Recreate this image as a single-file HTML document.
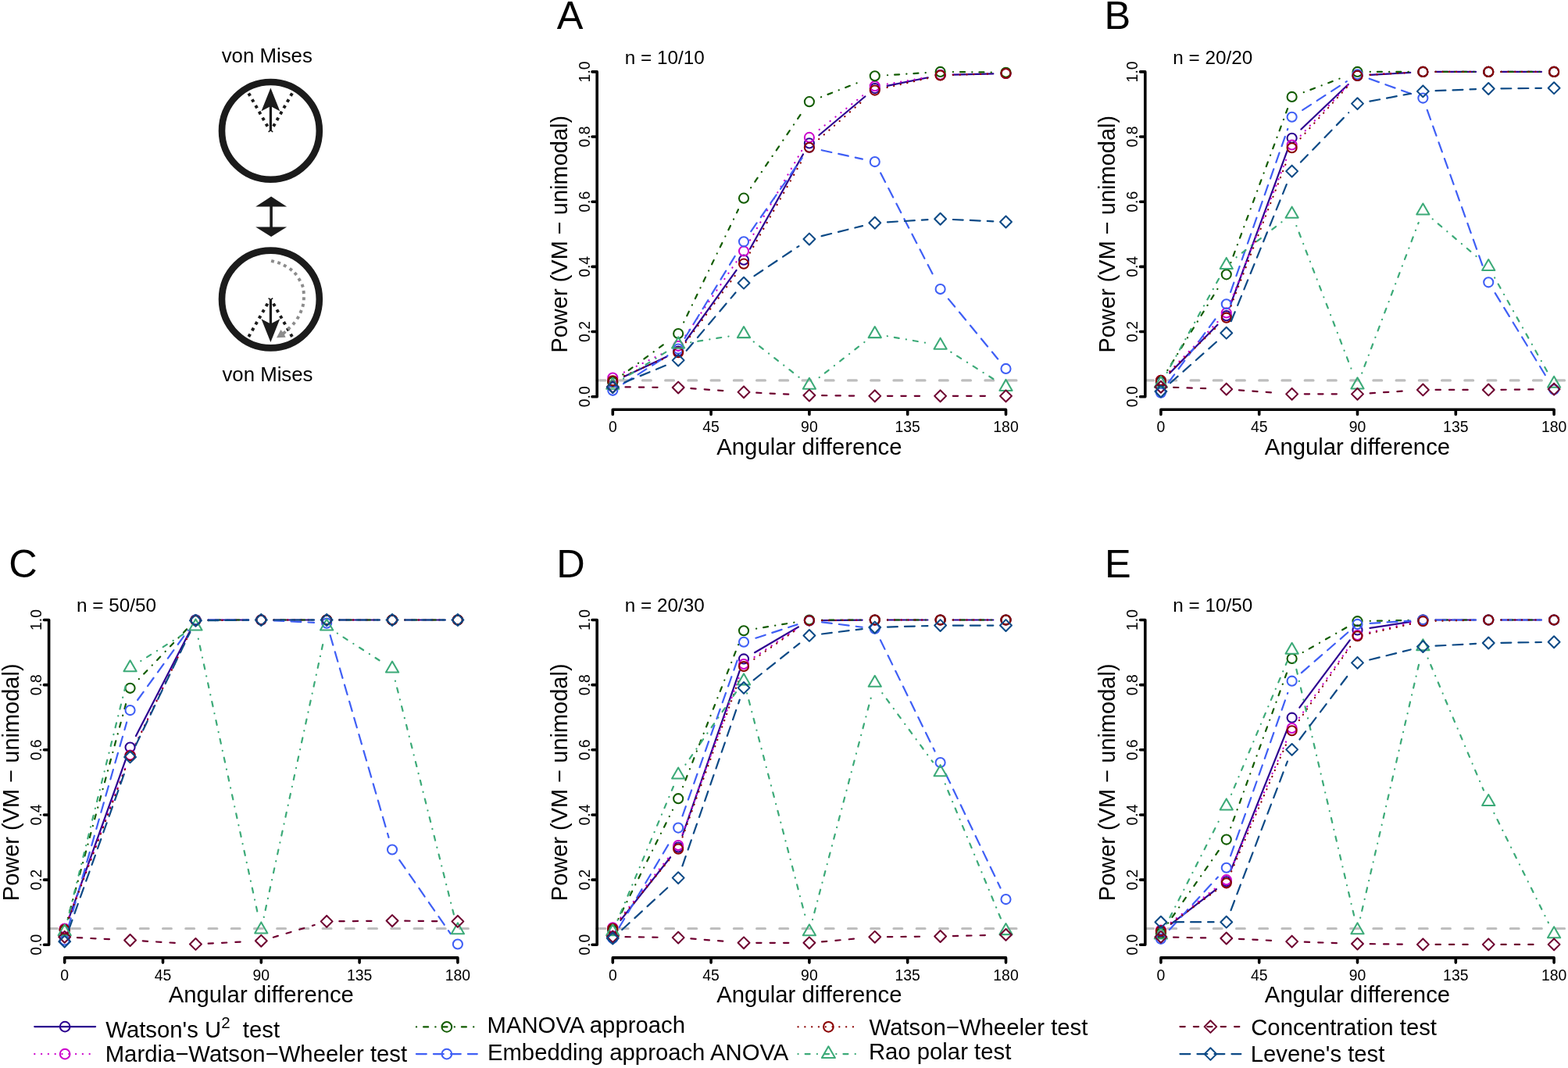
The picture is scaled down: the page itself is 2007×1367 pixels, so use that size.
<!DOCTYPE html><html><head><meta charset="utf-8"><style>html,body{margin:0;padding:0;background:#fff;overflow:hidden;}svg{display:block;}text{font-family:"Liberation Sans", Arial, Helvetica, sans-serif;fill:#000;}</style></head><body>
<svg width="2007" height="1367" viewBox="0 0 2007 1367">
<rect width="2007" height="1367" fill="#fff"/>
<text x="283.7" y="79.8" font-size="25.8">von Mises</text>
<text x="284.4" y="487.8" font-size="25.8">von Mises</text>
<circle cx="346.4" cy="167.4" r="62.4" fill="none" stroke="#1b1b1b" stroke-width="8.6"/>
<circle cx="346.4" cy="383" r="62.4" fill="none" stroke="#1b1b1b" stroke-width="8.6"/>
<rect x="317.25" y="119.15" width="3.9" height="3.9" fill="#1b1b1b" transform="rotate(60.24 319.2 121.1)"/>
<rect x="321.71" y="126.95" width="3.9" height="3.9" fill="#1b1b1b" transform="rotate(60.24 323.66 128.9)"/>
<rect x="326.17" y="134.75" width="3.9" height="3.9" fill="#1b1b1b" transform="rotate(60.24 328.12 136.7)"/>
<rect x="330.63" y="142.55" width="3.9" height="3.9" fill="#1b1b1b" transform="rotate(60.24 332.58 144.5)"/>
<rect x="335.09" y="150.35" width="3.9" height="3.9" fill="#1b1b1b" transform="rotate(60.24 337.04 152.3)"/>
<rect x="339.55" y="158.15" width="3.9" height="3.9" fill="#1b1b1b" transform="rotate(60.24 341.5 160.1)"/>
<rect x="371.05" y="119.15" width="3.9" height="3.9" fill="#1b1b1b" transform="rotate(119.54 373 121.1)"/>
<rect x="366.63" y="126.95" width="3.9" height="3.9" fill="#1b1b1b" transform="rotate(119.54 368.58 128.9)"/>
<rect x="362.21" y="134.75" width="3.9" height="3.9" fill="#1b1b1b" transform="rotate(119.54 364.16 136.7)"/>
<rect x="357.79" y="142.55" width="3.9" height="3.9" fill="#1b1b1b" transform="rotate(119.54 359.74 144.5)"/>
<rect x="353.37" y="150.35" width="3.9" height="3.9" fill="#1b1b1b" transform="rotate(119.54 355.32 152.3)"/>
<rect x="348.95" y="158.15" width="3.9" height="3.9" fill="#1b1b1b" transform="rotate(119.54 350.9 160.1)"/>
<path d="M346.4 134.5L346.4 167.6" stroke="#1b1b1b" stroke-width="3.2"/>
<path d="M346.4 112.4L358.3 142.2L346.4 136L334.5 142.2Z" fill="#1b1b1b"/>
<path d="M343.6 168.8L346.4 166.6L349.2 168.8" stroke="#1b1b1b" stroke-width="1.6" fill="none"/>
<rect x="317.25" y="427.35" width="3.9" height="3.9" fill="#1b1b1b" transform="rotate(-60.24 319.2 429.3)"/>
<rect x="321.71" y="419.55" width="3.9" height="3.9" fill="#1b1b1b" transform="rotate(-60.24 323.66 421.5)"/>
<rect x="326.17" y="411.75" width="3.9" height="3.9" fill="#1b1b1b" transform="rotate(-60.24 328.12 413.7)"/>
<rect x="330.63" y="403.95" width="3.9" height="3.9" fill="#1b1b1b" transform="rotate(-60.24 332.58 405.9)"/>
<rect x="335.09" y="396.15" width="3.9" height="3.9" fill="#1b1b1b" transform="rotate(-60.24 337.04 398.1)"/>
<rect x="339.55" y="388.35" width="3.9" height="3.9" fill="#1b1b1b" transform="rotate(-60.24 341.5 390.3)"/>
<rect x="371.05" y="427.35" width="3.9" height="3.9" fill="#1b1b1b" transform="rotate(-119.54 373 429.3)"/>
<rect x="366.63" y="419.55" width="3.9" height="3.9" fill="#1b1b1b" transform="rotate(-119.54 368.58 421.5)"/>
<rect x="362.21" y="411.75" width="3.9" height="3.9" fill="#1b1b1b" transform="rotate(-119.54 364.16 413.7)"/>
<rect x="357.79" y="403.95" width="3.9" height="3.9" fill="#1b1b1b" transform="rotate(-119.54 359.74 405.9)"/>
<rect x="353.37" y="396.15" width="3.9" height="3.9" fill="#1b1b1b" transform="rotate(-119.54 355.32 398.1)"/>
<rect x="348.95" y="388.35" width="3.9" height="3.9" fill="#1b1b1b" transform="rotate(-119.54 350.9 390.3)"/>
<path d="M346.4 415.9L346.4 382.8" stroke="#1b1b1b" stroke-width="3.2"/>
<path d="M346.4 438L358.3 408.2L346.4 414.4L334.5 408.2Z" fill="#1b1b1b"/>
<path d="M343.6 381.6L346.4 383.8L349.2 381.6" stroke="#1b1b1b" stroke-width="1.6" fill="none"/>
<path d="M347.1 262 L347.1 292" stroke="#1b1b1b" stroke-width="3.6"/>
<path d="M347.1 251.6 L367.1 264.5 L327.2 264.5 Z M347.1 303 L367.1 290.4 L327.2 290.4 Z" fill="#1b1b1b"/>
<rect x="347.05" y="332.45" width="3.9" height="3.9" fill="#8c8c8c" transform="rotate(15.2 349 334.4)"/>
<rect x="355.15" y="334.65" width="3.9" height="3.9" fill="#8c8c8c" transform="rotate(20.28 357.1 336.6)"/>
<rect x="362.75" y="338.25" width="3.9" height="3.9" fill="#8c8c8c" transform="rotate(28.64 364.7 340.2)"/>
<rect x="370.35" y="342.95" width="3.9" height="3.9" fill="#8c8c8c" transform="rotate(37.41 372.3 344.9)"/>
<rect x="376.35" y="348.65" width="3.9" height="3.9" fill="#8c8c8c" transform="rotate(50.24 378.3 350.6)"/>
<rect x="381.25" y="356.05" width="3.9" height="3.9" fill="#8c8c8c" transform="rotate(59.65 383.2 358)"/>
<rect x="385.25" y="363.85" width="3.9" height="3.9" fill="#8c8c8c" transform="rotate(71.03 387.2 365.8)"/>
<rect x="386.75" y="372.05" width="3.9" height="3.9" fill="#8c8c8c" transform="rotate(84.12 388.7 374)"/>
<rect x="386.95" y="380.35" width="3.9" height="3.9" fill="#8c8c8c" transform="rotate(93.07 388.9 382.3)"/>
<rect x="385.85" y="388.85" width="3.9" height="3.9" fill="#8c8c8c" transform="rotate(102.89 387.8 390.8)"/>
<rect x="383.15" y="396.95" width="3.9" height="3.9" fill="#8c8c8c" transform="rotate(112.23 385.1 398.9)"/>
<rect x="379.35" y="404.75" width="3.9" height="3.9" fill="#8c8c8c" transform="rotate(120.63 381.3 406.7)"/>
<rect x="374.15" y="412.15" width="3.9" height="3.9" fill="#8c8c8c" transform="rotate(129.97 376.1 414.1)"/>
<rect x="367.95" y="418.35" width="3.9" height="3.9" fill="#8c8c8c" transform="rotate(135 369.9 420.3)"/>
<path d="M354 432.2 L359.4 422 L361.8 425 L364.3 423.1 L366.7 425.7 L364 428.2 L365.6 431.7 Z" fill="#8c8c8c"/>
<text x="712.8" y="37.4" font-size="50.5">A</text>
<text x="799.7" y="81.6" font-size="24.3">n = 10/10</text>
<path d="M763.95 486.91L1306 486.91" stroke="#bebebe" stroke-width="3.1" stroke-dasharray="10.9 18.33" stroke-linecap="round" fill="none"/>
<path d="M764.2 507.7L764.2 91.9M764.2 507.7L758 507.7M764.2 424.54L758 424.54M764.2 341.38L758 341.38M764.2 258.22L758 258.22M764.2 175.06L758 175.06M764.2 91.9L758 91.9M784.3 524.3L1287.5 524.3M784.3 524.3L784.3 530.5M910.1 524.3L910.1 530.5M1035.9 524.3L1035.9 530.5M1161.7 524.3L1161.7 530.5M1287.5 524.3L1287.5 530.5" stroke="#000" stroke-width="3.6" stroke-linecap="round" fill="none"/>
<text x="784.3" y="553.4" font-size="19.4" text-anchor="middle">0</text>
<text x="910.1" y="553.4" font-size="19.4" text-anchor="middle">45</text>
<text x="1035.9" y="553.4" font-size="19.4" text-anchor="middle">90</text>
<text x="1161.7" y="553.4" font-size="19.4" text-anchor="middle">135</text>
<text x="1287.5" y="553.4" font-size="19.4" text-anchor="middle">180</text>
<text transform="translate(754.8 507.7) rotate(-90)" font-size="19.4" text-anchor="middle">0.0</text>
<text transform="translate(754.8 424.54) rotate(-90)" font-size="19.4" text-anchor="middle">0.2</text>
<text transform="translate(754.8 341.38) rotate(-90)" font-size="19.4" text-anchor="middle">0.4</text>
<text transform="translate(754.8 258.22) rotate(-90)" font-size="19.4" text-anchor="middle">0.6</text>
<text transform="translate(754.8 175.06) rotate(-90)" font-size="19.4" text-anchor="middle">0.8</text>
<text transform="translate(754.8 91.9) rotate(-90)" font-size="19.4" text-anchor="middle">1.0</text>
<text x="1035.9" y="581.5" font-size="29.3" text-anchor="middle">Angular difference</text>
<text transform="translate(725.7 299.7) rotate(-90)" font-size="29" text-anchor="middle">Power (VM − unimodal)</text>
<path d="M798.96 482.09L853.51 456.39" stroke="#2c0090" stroke-width="2.2" stroke-linecap="round"/>
<path d="M877.61 436.33L942.59 345.81" stroke="#2c0090" stroke-width="2.2" stroke-linecap="round"/>
<path d="M959.97 318.52L1027.96 197.5" stroke="#2c0090" stroke-width="2.2" stroke-linecap="round"/>
<path d="M1048.32 172.97L1107.35 123.51" stroke="#2c0090" stroke-width="2.2" stroke-linecap="round"/>
<path d="M1135.64 109.88L1187.76 99.29" stroke="#2c0090" stroke-width="2.2" stroke-linecap="round"/>
<path d="M1219.83 95.66L1271.3 94.38" stroke="#2c0090" stroke-width="2.2" stroke-linecap="round"/>
<circle cx="784.3" cy="488.99" r="6.05" fill="none" stroke="#2c0090" stroke-width="2.05"/>
<circle cx="868.17" cy="449.49" r="6.05" fill="none" stroke="#2c0090" stroke-width="2.05"/>
<circle cx="952.03" cy="332.65" r="6.05" fill="none" stroke="#2c0090" stroke-width="2.05"/>
<circle cx="1035.9" cy="183.38" r="6.05" fill="none" stroke="#2c0090" stroke-width="2.05"/>
<circle cx="1119.77" cy="113.11" r="6.05" fill="none" stroke="#2c0090" stroke-width="2.05"/>
<circle cx="1203.63" cy="96.06" r="6.05" fill="none" stroke="#2c0090" stroke-width="2.05"/>
<circle cx="1287.5" cy="93.98" r="6.05" fill="none" stroke="#2c0090" stroke-width="2.05"/>
<path d="M798.87 476.5L853.6 449.91" stroke="#cc00cc" stroke-width="2.2" stroke-linecap="round" stroke-dasharray="0.2,8.6"/>
<path d="M877.37 429.51L942.83 334.75" stroke="#cc00cc" stroke-width="2.2" stroke-linecap="round" stroke-dasharray="0.2,8.6"/>
<path d="M960.12 307.39L1027.81 189.93" stroke="#cc00cc" stroke-width="2.2" stroke-linecap="round" stroke-dasharray="0.2,8.6"/>
<path d="M1048.65 165.9L1107.01 120.19" stroke="#cc00cc" stroke-width="2.2" stroke-linecap="round" stroke-dasharray="0.2,8.6"/>
<path d="M1135.74 107.5L1187.66 98.75" stroke="#cc00cc" stroke-width="2.2" stroke-linecap="round" stroke-dasharray="0.2,8.6"/>
<path d="M1219.83 95.66L1271.3 94.38" stroke="#cc00cc" stroke-width="2.2" stroke-linecap="round" stroke-dasharray="0.2,8.6"/>
<circle cx="784.3" cy="483.58" r="6.05" fill="none" stroke="#cc00cc" stroke-width="2.05"/>
<circle cx="868.17" cy="442.84" r="6.05" fill="none" stroke="#cc00cc" stroke-width="2.05"/>
<circle cx="952.03" cy="321.42" r="6.05" fill="none" stroke="#cc00cc" stroke-width="2.05"/>
<circle cx="1035.9" cy="175.89" r="6.05" fill="none" stroke="#cc00cc" stroke-width="2.05"/>
<circle cx="1119.77" cy="110.2" r="6.05" fill="none" stroke="#cc00cc" stroke-width="2.05"/>
<circle cx="1203.63" cy="96.06" r="6.05" fill="none" stroke="#cc00cc" stroke-width="2.05"/>
<circle cx="1287.5" cy="93.98" r="6.05" fill="none" stroke="#cc00cc" stroke-width="2.05"/>
<path d="M797.33 479.36L855.14 436.66" stroke="#125c00" stroke-width="2.2" stroke-linecap="round" stroke-dasharray="0.2,9,6,9.2"/>
<path d="M875.22 412.45L944.98 268.23" stroke="#125c00" stroke-width="2.2" stroke-linecap="round" stroke-dasharray="0.2,9,6,9.2"/>
<path d="M961.13 240.24L1026.8 143.56" stroke="#125c00" stroke-width="2.2" stroke-linecap="round" stroke-dasharray="0.2,9,6,9.2"/>
<path d="M1050.98 124.25L1104.68 103.21" stroke="#125c00" stroke-width="2.2" stroke-linecap="round" stroke-dasharray="0.2,9,6,9.2"/>
<path d="M1135.93 96.26L1187.47 92.94" stroke="#125c00" stroke-width="2.2" stroke-linecap="round" stroke-dasharray="0.2,9,6,9.2"/>
<path d="M1219.83 92.06L1271.3 92.57" stroke="#125c00" stroke-width="2.2" stroke-linecap="round" stroke-dasharray="0.2,9,6,9.2"/>
<circle cx="784.3" cy="488.99" r="6.05" fill="none" stroke="#125c00" stroke-width="2.05"/>
<circle cx="868.17" cy="427.03" r="6.05" fill="none" stroke="#125c00" stroke-width="2.05"/>
<circle cx="952.03" cy="253.65" r="6.05" fill="none" stroke="#125c00" stroke-width="2.05"/>
<circle cx="1035.9" cy="130.15" r="6.05" fill="none" stroke="#125c00" stroke-width="2.05"/>
<circle cx="1119.77" cy="97.31" r="6.05" fill="none" stroke="#125c00" stroke-width="2.05"/>
<circle cx="1203.63" cy="91.9" r="6.05" fill="none" stroke="#125c00" stroke-width="2.05"/>
<circle cx="1287.5" cy="92.73" r="6.05" fill="none" stroke="#125c00" stroke-width="2.05"/>
<path d="M797.98 491.12L854.49 455.26" stroke="#3f5ff5" stroke-width="2.2" stroke-linecap="round" stroke-dasharray="12.9,9.1"/>
<path d="M876.62 432.75L943.58 323.19" stroke="#3f5ff5" stroke-width="2.2" stroke-linecap="round" stroke-dasharray="12.9,9.1"/>
<path d="M961.28 296.06L1026.65 202.08" stroke="#3f5ff5" stroke-width="2.2" stroke-linecap="round" stroke-dasharray="12.9,9.1"/>
<path d="M1051.73 192.23L1103.94 203.62" stroke="#3f5ff5" stroke-width="2.2" stroke-linecap="round" stroke-dasharray="12.9,9.1"/>
<path d="M1127.18 221.48L1196.22 355.67" stroke="#3f5ff5" stroke-width="2.2" stroke-linecap="round" stroke-dasharray="12.9,9.1"/>
<path d="M1213.93 382.58L1277.2 459.43" stroke="#3f5ff5" stroke-width="2.2" stroke-linecap="round" stroke-dasharray="12.9,9.1"/>
<circle cx="784.3" cy="499.8" r="6.05" fill="none" stroke="#3f5ff5" stroke-width="2.05"/>
<circle cx="868.17" cy="446.58" r="6.05" fill="none" stroke="#3f5ff5" stroke-width="2.05"/>
<circle cx="952.03" cy="309.36" r="6.05" fill="none" stroke="#3f5ff5" stroke-width="2.05"/>
<circle cx="1035.9" cy="188.78" r="6.05" fill="none" stroke="#3f5ff5" stroke-width="2.05"/>
<circle cx="1119.77" cy="207.08" r="6.05" fill="none" stroke="#3f5ff5" stroke-width="2.05"/>
<circle cx="1203.63" cy="370.07" r="6.05" fill="none" stroke="#3f5ff5" stroke-width="2.05"/>
<circle cx="1287.5" cy="471.94" r="6.05" fill="none" stroke="#3f5ff5" stroke-width="2.05"/>
<path d="M799.18 480.91L853.29 457.57" stroke="#8b0000" stroke-width="2.2" stroke-linecap="round" stroke-dasharray="0.2,8.6"/>
<path d="M877.79 438.12L942.41 350.67" stroke="#8b0000" stroke-width="2.2" stroke-linecap="round" stroke-dasharray="0.2,8.6"/>
<path d="M959.99 323.52L1027.95 202.9" stroke="#8b0000" stroke-width="2.2" stroke-linecap="round" stroke-dasharray="0.2,8.6"/>
<path d="M1048.11 178.13L1107.56 126.25" stroke="#8b0000" stroke-width="2.2" stroke-linecap="round" stroke-dasharray="0.2,8.6"/>
<path d="M1135.56 112L1187.84 100.08" stroke="#8b0000" stroke-width="2.2" stroke-linecap="round" stroke-dasharray="0.2,8.6"/>
<path d="M1219.83 95.99L1271.31 94.46" stroke="#8b0000" stroke-width="2.2" stroke-linecap="round" stroke-dasharray="0.2,8.6"/>
<circle cx="784.3" cy="487.33" r="6.05" fill="none" stroke="#8b0000" stroke-width="2.05"/>
<circle cx="868.17" cy="451.15" r="6.05" fill="none" stroke="#8b0000" stroke-width="2.05"/>
<circle cx="952.03" cy="337.64" r="6.05" fill="none" stroke="#8b0000" stroke-width="2.05"/>
<circle cx="1035.9" cy="188.78" r="6.05" fill="none" stroke="#8b0000" stroke-width="2.05"/>
<circle cx="1119.77" cy="115.6" r="6.05" fill="none" stroke="#8b0000" stroke-width="2.05"/>
<circle cx="1203.63" cy="96.47" r="6.05" fill="none" stroke="#8b0000" stroke-width="2.05"/>
<circle cx="1287.5" cy="93.98" r="6.05" fill="none" stroke="#8b0000" stroke-width="2.05"/>
<path d="M798.04 484.56L854.43 449.34" stroke="#3caa78" stroke-width="2.2" stroke-linecap="round" stroke-dasharray="0.2,9,6,9.2"/>
<path d="M884.17 438.22L936.03 429.99" stroke="#3caa78" stroke-width="2.2" stroke-linecap="round" stroke-dasharray="0.2,9,6,9.2"/>
<path d="M964.79 437.44L1023.15 483.16" stroke="#3caa78" stroke-width="2.2" stroke-linecap="round" stroke-dasharray="0.2,9,6,9.2"/>
<path d="M1048.65 483.16L1107.01 437.44" stroke="#3caa78" stroke-width="2.2" stroke-linecap="round" stroke-dasharray="0.2,9,6,9.2"/>
<path d="M1135.73 430.22L1187.67 439.23" stroke="#3caa78" stroke-width="2.2" stroke-linecap="round" stroke-dasharray="0.2,9,6,9.2"/>
<path d="M1217.31 450.68L1273.82 486.55" stroke="#3caa78" stroke-width="2.2" stroke-linecap="round" stroke-dasharray="0.2,9,6,9.2"/>
<path d="M784.3 483.8L792.4 497.82L776.2 497.82Z" fill="none" stroke="#3caa78" stroke-width="2.05" stroke-linejoin="round"/>
<path d="M868.17 431.41L876.26 445.43L860.07 445.43Z" fill="none" stroke="#3caa78" stroke-width="2.05" stroke-linejoin="round"/>
<path d="M952.03 418.1L960.13 432.13L943.94 432.13Z" fill="none" stroke="#3caa78" stroke-width="2.05" stroke-linejoin="round"/>
<path d="M1035.9 483.8L1044 497.82L1027.8 497.82Z" fill="none" stroke="#3caa78" stroke-width="2.05" stroke-linejoin="round"/>
<path d="M1119.77 418.1L1127.86 432.13L1111.67 432.13Z" fill="none" stroke="#3caa78" stroke-width="2.05" stroke-linejoin="round"/>
<path d="M1203.63 432.65L1211.73 446.68L1195.54 446.68Z" fill="none" stroke="#3caa78" stroke-width="2.05" stroke-linejoin="round"/>
<path d="M1287.5 485.88L1295.6 499.9L1279.4 499.9Z" fill="none" stroke="#3caa78" stroke-width="2.05" stroke-linejoin="round"/>
<path d="M800.5 495.39L851.97 495.9" stroke="#6e0030" stroke-width="2.2" stroke-linecap="round" stroke-dasharray="6.3,11.1"/>
<path d="M884.33 497.18L935.87 500.76" stroke="#6e0030" stroke-width="2.2" stroke-linecap="round" stroke-dasharray="6.3,11.1"/>
<path d="M968.21 502.68L1019.72 505.23" stroke="#6e0030" stroke-width="2.2" stroke-linecap="round" stroke-dasharray="6.3,11.1"/>
<path d="M1052.1 506.2L1103.57 506.71" stroke="#6e0030" stroke-width="2.2" stroke-linecap="round" stroke-dasharray="6.3,11.1"/>
<path d="M1135.97 506.87L1187.43 506.87" stroke="#6e0030" stroke-width="2.2" stroke-linecap="round" stroke-dasharray="6.3,11.1"/>
<path d="M1219.83 506.87L1271.3 506.87" stroke="#6e0030" stroke-width="2.2" stroke-linecap="round" stroke-dasharray="6.3,11.1"/>
<path d="M784.3 487.8L791.73 495.23L784.3 502.66L776.87 495.23Z" fill="none" stroke="#6e0030" stroke-width="2.05" stroke-linejoin="round"/>
<path d="M868.17 488.63L875.6 496.06L868.17 503.49L860.74 496.06Z" fill="none" stroke="#6e0030" stroke-width="2.05" stroke-linejoin="round"/>
<path d="M952.03 494.45L959.46 501.88L952.03 509.31L944.6 501.88Z" fill="none" stroke="#6e0030" stroke-width="2.05" stroke-linejoin="round"/>
<path d="M1035.9 498.61L1043.33 506.04L1035.9 513.47L1028.47 506.04Z" fill="none" stroke="#6e0030" stroke-width="2.05" stroke-linejoin="round"/>
<path d="M1119.77 499.44L1127.2 506.87L1119.77 514.3L1112.34 506.87Z" fill="none" stroke="#6e0030" stroke-width="2.05" stroke-linejoin="round"/>
<path d="M1203.63 499.44L1211.06 506.87L1203.63 514.3L1196.2 506.87Z" fill="none" stroke="#6e0030" stroke-width="2.05" stroke-linejoin="round"/>
<path d="M1287.5 499.44L1294.93 506.87L1287.5 514.3L1280.07 506.87Z" fill="none" stroke="#6e0030" stroke-width="2.05" stroke-linejoin="round"/>
<path d="M799.28 489.48L853.19 467.3" stroke="#0c4a86" stroke-width="2.2" stroke-linecap="round" stroke-dasharray="12.9,9.1"/>
<path d="M878.64 448.77L941.56 374.53" stroke="#0c4a86" stroke-width="2.2" stroke-linecap="round" stroke-dasharray="12.9,9.1"/>
<path d="M965.5 353.16L1022.44 315.05" stroke="#0c4a86" stroke-width="2.2" stroke-linecap="round" stroke-dasharray="12.9,9.1"/>
<path d="M1051.62 302.14L1104.04 289.14" stroke="#0c4a86" stroke-width="2.2" stroke-linecap="round" stroke-dasharray="12.9,9.1"/>
<path d="M1135.94 284.28L1187.46 281.22" stroke="#0c4a86" stroke-width="2.2" stroke-linecap="round" stroke-dasharray="12.9,9.1"/>
<path d="M1219.82 280.98L1271.32 283.28" stroke="#0c4a86" stroke-width="2.2" stroke-linecap="round" stroke-dasharray="12.9,9.1"/>
<path d="M784.3 488.21L791.73 495.64L784.3 503.07L776.87 495.64Z" fill="none" stroke="#0c4a86" stroke-width="2.05" stroke-linejoin="round"/>
<path d="M868.17 453.7L875.6 461.13L868.17 468.56L860.74 461.13Z" fill="none" stroke="#0c4a86" stroke-width="2.05" stroke-linejoin="round"/>
<path d="M952.03 354.74L959.46 362.17L952.03 369.6L944.6 362.17Z" fill="none" stroke="#0c4a86" stroke-width="2.05" stroke-linejoin="round"/>
<path d="M1035.9 298.61L1043.33 306.04L1035.9 313.47L1028.47 306.04Z" fill="none" stroke="#0c4a86" stroke-width="2.05" stroke-linejoin="round"/>
<path d="M1119.77 277.82L1127.2 285.25L1119.77 292.68L1112.34 285.25Z" fill="none" stroke="#0c4a86" stroke-width="2.05" stroke-linejoin="round"/>
<path d="M1203.63 272.83L1211.06 280.26L1203.63 287.69L1196.2 280.26Z" fill="none" stroke="#0c4a86" stroke-width="2.05" stroke-linejoin="round"/>
<path d="M1287.5 276.57L1294.93 284L1287.5 291.43L1280.07 284Z" fill="none" stroke="#0c4a86" stroke-width="2.05" stroke-linejoin="round"/>
<text x="1413.5" y="37.4" font-size="50.5">B</text>
<text x="1501.3" y="81.6" font-size="24.3">n = 20/20</text>
<path d="M1465.55 486.91L2007.6 486.91" stroke="#bebebe" stroke-width="3.1" stroke-dasharray="10.9 18.33" stroke-linecap="round" fill="none"/>
<path d="M1465.8 507.7L1465.8 91.9M1465.8 507.7L1459.6 507.7M1465.8 424.54L1459.6 424.54M1465.8 341.38L1459.6 341.38M1465.8 258.22L1459.6 258.22M1465.8 175.06L1459.6 175.06M1465.8 91.9L1459.6 91.9M1485.9 524.3L1989.1 524.3M1485.9 524.3L1485.9 530.5M1611.7 524.3L1611.7 530.5M1737.5 524.3L1737.5 530.5M1863.3 524.3L1863.3 530.5M1989.1 524.3L1989.1 530.5" stroke="#000" stroke-width="3.6" stroke-linecap="round" fill="none"/>
<text x="1485.9" y="553.4" font-size="19.4" text-anchor="middle">0</text>
<text x="1611.7" y="553.4" font-size="19.4" text-anchor="middle">45</text>
<text x="1737.5" y="553.4" font-size="19.4" text-anchor="middle">90</text>
<text x="1863.3" y="553.4" font-size="19.4" text-anchor="middle">135</text>
<text x="1989.1" y="553.4" font-size="19.4" text-anchor="middle">180</text>
<text transform="translate(1456.4 507.7) rotate(-90)" font-size="19.4" text-anchor="middle">0.0</text>
<text transform="translate(1456.4 424.54) rotate(-90)" font-size="19.4" text-anchor="middle">0.2</text>
<text transform="translate(1456.4 341.38) rotate(-90)" font-size="19.4" text-anchor="middle">0.4</text>
<text transform="translate(1456.4 258.22) rotate(-90)" font-size="19.4" text-anchor="middle">0.6</text>
<text transform="translate(1456.4 175.06) rotate(-90)" font-size="19.4" text-anchor="middle">0.8</text>
<text transform="translate(1456.4 91.9) rotate(-90)" font-size="19.4" text-anchor="middle">1.0</text>
<text x="1737.5" y="581.5" font-size="29.3" text-anchor="middle">Angular difference</text>
<text transform="translate(1427.3 299.7) rotate(-90)" font-size="29" text-anchor="middle">Power (VM − unimodal)</text>
<path d="M1497.29 477.47L1558.38 415.69" stroke="#2c0090" stroke-width="2.2" stroke-linecap="round"/>
<path d="M1575.37 388.97L1648.03 191.92" stroke="#2c0090" stroke-width="2.2" stroke-linecap="round"/>
<path d="M1665.37 165.55L1725.77 108.06" stroke="#2c0090" stroke-width="2.2" stroke-linecap="round"/>
<path d="M1753.67 95.93L1805.2 92.86" stroke="#2c0090" stroke-width="2.2" stroke-linecap="round"/>
<path d="M1837.57 91.9L1889.03 91.9" stroke="#2c0090" stroke-width="2.2" stroke-linecap="round"/>
<path d="M1921.43 91.9L1972.9 91.9" stroke="#2c0090" stroke-width="2.2" stroke-linecap="round"/>
<circle cx="1485.9" cy="488.99" r="6.05" fill="none" stroke="#2c0090" stroke-width="2.05"/>
<circle cx="1569.77" cy="404.17" r="6.05" fill="none" stroke="#2c0090" stroke-width="2.05"/>
<circle cx="1653.63" cy="176.72" r="6.05" fill="none" stroke="#2c0090" stroke-width="2.05"/>
<circle cx="1737.5" cy="96.89" r="6.05" fill="none" stroke="#2c0090" stroke-width="2.05"/>
<circle cx="1821.37" cy="91.9" r="6.05" fill="none" stroke="#2c0090" stroke-width="2.05"/>
<circle cx="1905.23" cy="91.9" r="6.05" fill="none" stroke="#2c0090" stroke-width="2.05"/>
<circle cx="1989.1" cy="91.9" r="6.05" fill="none" stroke="#2c0090" stroke-width="2.05"/>
<path d="M1497.18 475.28L1558.49 412.05" stroke="#cc00cc" stroke-width="2.2" stroke-linecap="round" stroke-dasharray="0.2,8.6"/>
<path d="M1575.65 385.33L1647.75 200.55" stroke="#cc00cc" stroke-width="2.2" stroke-linecap="round" stroke-dasharray="0.2,8.6"/>
<path d="M1664.72 173.64L1726.42 107.87" stroke="#cc00cc" stroke-width="2.2" stroke-linecap="round" stroke-dasharray="0.2,8.6"/>
<path d="M1753.68 95.26L1805.19 92.7" stroke="#cc00cc" stroke-width="2.2" stroke-linecap="round" stroke-dasharray="0.2,8.6"/>
<path d="M1837.57 91.9L1889.03 91.9" stroke="#cc00cc" stroke-width="2.2" stroke-linecap="round" stroke-dasharray="0.2,8.6"/>
<path d="M1921.43 91.9L1972.9 91.9" stroke="#cc00cc" stroke-width="2.2" stroke-linecap="round" stroke-dasharray="0.2,8.6"/>
<circle cx="1485.9" cy="486.91" r="6.05" fill="none" stroke="#cc00cc" stroke-width="2.05"/>
<circle cx="1569.77" cy="400.42" r="6.05" fill="none" stroke="#cc00cc" stroke-width="2.05"/>
<circle cx="1653.63" cy="185.45" r="6.05" fill="none" stroke="#cc00cc" stroke-width="2.05"/>
<circle cx="1737.5" cy="96.06" r="6.05" fill="none" stroke="#cc00cc" stroke-width="2.05"/>
<circle cx="1821.37" cy="91.9" r="6.05" fill="none" stroke="#cc00cc" stroke-width="2.05"/>
<circle cx="1905.23" cy="91.9" r="6.05" fill="none" stroke="#cc00cc" stroke-width="2.05"/>
<circle cx="1989.1" cy="91.9" r="6.05" fill="none" stroke="#cc00cc" stroke-width="2.05"/>
<path d="M1494.39 473.94L1561.28 365.16" stroke="#125c00" stroke-width="2.2" stroke-linecap="round" stroke-dasharray="0.2,9,6,9.2"/>
<path d="M1575.37 336.16L1648.03 139.12" stroke="#125c00" stroke-width="2.2" stroke-linecap="round" stroke-dasharray="0.2,9,6,9.2"/>
<path d="M1668.77 118.14L1722.37 97.68" stroke="#125c00" stroke-width="2.2" stroke-linecap="round" stroke-dasharray="0.2,9,6,9.2"/>
<path d="M1753.7 91.9L1805.17 91.9" stroke="#125c00" stroke-width="2.2" stroke-linecap="round" stroke-dasharray="0.2,9,6,9.2"/>
<path d="M1837.57 91.9L1889.03 91.9" stroke="#125c00" stroke-width="2.2" stroke-linecap="round" stroke-dasharray="0.2,9,6,9.2"/>
<path d="M1921.43 91.9L1972.9 91.9" stroke="#125c00" stroke-width="2.2" stroke-linecap="round" stroke-dasharray="0.2,9,6,9.2"/>
<circle cx="1485.9" cy="487.74" r="6.05" fill="none" stroke="#125c00" stroke-width="2.05"/>
<circle cx="1569.77" cy="351.36" r="6.05" fill="none" stroke="#125c00" stroke-width="2.05"/>
<circle cx="1653.63" cy="123.92" r="6.05" fill="none" stroke="#125c00" stroke-width="2.05"/>
<circle cx="1737.5" cy="91.9" r="6.05" fill="none" stroke="#125c00" stroke-width="2.05"/>
<circle cx="1821.37" cy="91.9" r="6.05" fill="none" stroke="#125c00" stroke-width="2.05"/>
<circle cx="1905.23" cy="91.9" r="6.05" fill="none" stroke="#125c00" stroke-width="2.05"/>
<circle cx="1989.1" cy="91.9" r="6.05" fill="none" stroke="#125c00" stroke-width="2.05"/>
<path d="M1495.53 489.68L1560.14 402.23" stroke="#3f5ff5" stroke-width="2.2" stroke-linecap="round" stroke-dasharray="12.9,9.1"/>
<path d="M1575.12 373.91L1648.28 164.99" stroke="#3f5ff5" stroke-width="2.2" stroke-linecap="round" stroke-dasharray="12.9,9.1"/>
<path d="M1667.22 140.87L1723.91 104.05" stroke="#3f5ff5" stroke-width="2.2" stroke-linecap="round" stroke-dasharray="12.9,9.1"/>
<path d="M1752.73 100.74L1806.13 120.07" stroke="#3f5ff5" stroke-width="2.2" stroke-linecap="round" stroke-dasharray="12.9,9.1"/>
<path d="M1826.8 140.84L1899.8 346.08" stroke="#3f5ff5" stroke-width="2.2" stroke-linecap="round" stroke-dasharray="12.9,9.1"/>
<path d="M1913.68 375.16L1980.65 484.73" stroke="#3f5ff5" stroke-width="2.2" stroke-linecap="round" stroke-dasharray="12.9,9.1"/>
<circle cx="1485.9" cy="502.71" r="6.05" fill="none" stroke="#3f5ff5" stroke-width="2.05"/>
<circle cx="1569.77" cy="389.2" r="6.05" fill="none" stroke="#3f5ff5" stroke-width="2.05"/>
<circle cx="1653.63" cy="149.7" r="6.05" fill="none" stroke="#3f5ff5" stroke-width="2.05"/>
<circle cx="1737.5" cy="95.23" r="6.05" fill="none" stroke="#3f5ff5" stroke-width="2.05"/>
<circle cx="1821.37" cy="125.58" r="6.05" fill="none" stroke="#3f5ff5" stroke-width="2.05"/>
<circle cx="1905.23" cy="361.34" r="6.05" fill="none" stroke="#3f5ff5" stroke-width="2.05"/>
<circle cx="1989.1" cy="498.55" r="6.05" fill="none" stroke="#3f5ff5" stroke-width="2.05"/>
<path d="M1497.6 475.71L1558.06 417.86" stroke="#8b0000" stroke-width="2.2" stroke-linecap="round" stroke-dasharray="0.2,8.6"/>
<path d="M1575.6 391.55L1647.8 204.31" stroke="#8b0000" stroke-width="2.2" stroke-linecap="round" stroke-dasharray="0.2,8.6"/>
<path d="M1664.53 177.21L1726.61 108.88" stroke="#8b0000" stroke-width="2.2" stroke-linecap="round" stroke-dasharray="0.2,8.6"/>
<path d="M1753.67 95.93L1805.2 92.86" stroke="#8b0000" stroke-width="2.2" stroke-linecap="round" stroke-dasharray="0.2,8.6"/>
<path d="M1837.57 91.9L1889.03 91.9" stroke="#8b0000" stroke-width="2.2" stroke-linecap="round" stroke-dasharray="0.2,8.6"/>
<path d="M1921.43 91.9L1972.9 91.9" stroke="#8b0000" stroke-width="2.2" stroke-linecap="round" stroke-dasharray="0.2,8.6"/>
<circle cx="1485.9" cy="486.91" r="6.05" fill="none" stroke="#8b0000" stroke-width="2.05"/>
<circle cx="1569.77" cy="406.66" r="6.05" fill="none" stroke="#8b0000" stroke-width="2.05"/>
<circle cx="1653.63" cy="189.2" r="6.05" fill="none" stroke="#8b0000" stroke-width="2.05"/>
<circle cx="1737.5" cy="96.89" r="6.05" fill="none" stroke="#8b0000" stroke-width="2.05"/>
<circle cx="1821.37" cy="91.9" r="6.05" fill="none" stroke="#8b0000" stroke-width="2.05"/>
<circle cx="1905.23" cy="91.9" r="6.05" fill="none" stroke="#8b0000" stroke-width="2.05"/>
<circle cx="1989.1" cy="91.9" r="6.05" fill="none" stroke="#8b0000" stroke-width="2.05"/>
<path d="M1493.74 476.89L1561.93 353.48" stroke="#3caa78" stroke-width="2.2" stroke-linecap="round" stroke-dasharray="0.2,9,6,9.2"/>
<path d="M1582.55 329.35L1640.85 283.97" stroke="#3caa78" stroke-width="2.2" stroke-linecap="round" stroke-dasharray="0.2,9,6,9.2"/>
<path d="M1659.43 289.15L1731.7 477.61" stroke="#3caa78" stroke-width="2.2" stroke-linecap="round" stroke-dasharray="0.2,9,6,9.2"/>
<path d="M1743.21 477.57L1815.66 285.02" stroke="#3caa78" stroke-width="2.2" stroke-linecap="round" stroke-dasharray="0.2,9,6,9.2"/>
<path d="M1833.69 280.37L1892.91 330.87" stroke="#3caa78" stroke-width="2.2" stroke-linecap="round" stroke-dasharray="0.2,9,6,9.2"/>
<path d="M1913.15 355.51L1981.18 476.94" stroke="#3caa78" stroke-width="2.2" stroke-linecap="round" stroke-dasharray="0.2,9,6,9.2"/>
<path d="M1485.9 481.72L1494 495.74L1477.8 495.74Z" fill="none" stroke="#3caa78" stroke-width="2.05" stroke-linejoin="round"/>
<path d="M1569.77 329.95L1577.86 343.98L1561.67 343.98Z" fill="none" stroke="#3caa78" stroke-width="2.05" stroke-linejoin="round"/>
<path d="M1653.63 264.67L1661.73 278.7L1645.54 278.7Z" fill="none" stroke="#3caa78" stroke-width="2.05" stroke-linejoin="round"/>
<path d="M1737.5 483.38L1745.6 497.41L1729.4 497.41Z" fill="none" stroke="#3caa78" stroke-width="2.05" stroke-linejoin="round"/>
<path d="M1821.37 260.51L1829.46 274.54L1813.27 274.54Z" fill="none" stroke="#3caa78" stroke-width="2.05" stroke-linejoin="round"/>
<path d="M1905.23 332.03L1913.33 346.06L1897.14 346.06Z" fill="none" stroke="#3caa78" stroke-width="2.05" stroke-linejoin="round"/>
<path d="M1989.1 481.72L1997.2 495.74L1981 495.74Z" fill="none" stroke="#3caa78" stroke-width="2.05" stroke-linejoin="round"/>
<path d="M1502.09 495.79L1553.58 497.57" stroke="#6e0030" stroke-width="2.2" stroke-linecap="round" stroke-dasharray="6.3,11.1"/>
<path d="M1585.92 499.34L1637.48 503.17" stroke="#6e0030" stroke-width="2.2" stroke-linecap="round" stroke-dasharray="6.3,11.1"/>
<path d="M1669.83 504.37L1721.3 504.37" stroke="#6e0030" stroke-width="2.2" stroke-linecap="round" stroke-dasharray="6.3,11.1"/>
<path d="M1753.67 503.33L1805.2 500.01" stroke="#6e0030" stroke-width="2.2" stroke-linecap="round" stroke-dasharray="6.3,11.1"/>
<path d="M1837.57 498.97L1889.03 498.97" stroke="#6e0030" stroke-width="2.2" stroke-linecap="round" stroke-dasharray="6.3,11.1"/>
<path d="M1921.43 498.81L1972.9 498.3" stroke="#6e0030" stroke-width="2.2" stroke-linecap="round" stroke-dasharray="6.3,11.1"/>
<path d="M1485.9 487.8L1493.33 495.23L1485.9 502.66L1478.47 495.23Z" fill="none" stroke="#6e0030" stroke-width="2.05" stroke-linejoin="round"/>
<path d="M1569.77 490.71L1577.2 498.14L1569.77 505.57L1562.34 498.14Z" fill="none" stroke="#6e0030" stroke-width="2.05" stroke-linejoin="round"/>
<path d="M1653.63 496.94L1661.06 504.37L1653.63 511.8L1646.2 504.37Z" fill="none" stroke="#6e0030" stroke-width="2.05" stroke-linejoin="round"/>
<path d="M1737.5 496.94L1744.93 504.37L1737.5 511.8L1730.07 504.37Z" fill="none" stroke="#6e0030" stroke-width="2.05" stroke-linejoin="round"/>
<path d="M1821.37 491.54L1828.8 498.97L1821.37 506.4L1813.94 498.97Z" fill="none" stroke="#6e0030" stroke-width="2.05" stroke-linejoin="round"/>
<path d="M1905.23 491.54L1912.66 498.97L1905.23 506.4L1897.8 498.97Z" fill="none" stroke="#6e0030" stroke-width="2.05" stroke-linejoin="round"/>
<path d="M1989.1 490.71L1996.53 498.14L1989.1 505.57L1981.67 498.14Z" fill="none" stroke="#6e0030" stroke-width="2.05" stroke-linejoin="round"/>
<path d="M1497.99 490.26L1557.68 436.99" stroke="#0c4a86" stroke-width="2.2" stroke-linecap="round" stroke-dasharray="12.9,9.1"/>
<path d="M1575.85 411.19L1647.55 234.15" stroke="#0c4a86" stroke-width="2.2" stroke-linecap="round" stroke-dasharray="12.9,9.1"/>
<path d="M1664.91 207.5L1726.22 144.28" stroke="#0c4a86" stroke-width="2.2" stroke-linecap="round" stroke-dasharray="12.9,9.1"/>
<path d="M1753.42 129.65L1805.45 119.85" stroke="#0c4a86" stroke-width="2.2" stroke-linecap="round" stroke-dasharray="12.9,9.1"/>
<path d="M1837.55 116.21L1889.05 114.16" stroke="#0c4a86" stroke-width="2.2" stroke-linecap="round" stroke-dasharray="12.9,9.1"/>
<path d="M1921.43 113.36L1972.9 112.85" stroke="#0c4a86" stroke-width="2.2" stroke-linecap="round" stroke-dasharray="12.9,9.1"/>
<path d="M1485.9 493.62L1493.33 501.05L1485.9 508.48L1478.47 501.05Z" fill="none" stroke="#0c4a86" stroke-width="2.05" stroke-linejoin="round"/>
<path d="M1569.77 418.77L1577.2 426.2L1569.77 433.63L1562.34 426.2Z" fill="none" stroke="#0c4a86" stroke-width="2.05" stroke-linejoin="round"/>
<path d="M1653.63 211.7L1661.06 219.13L1653.63 226.56L1646.2 219.13Z" fill="none" stroke="#0c4a86" stroke-width="2.05" stroke-linejoin="round"/>
<path d="M1737.5 125.22L1744.93 132.65L1737.5 140.08L1730.07 132.65Z" fill="none" stroke="#0c4a86" stroke-width="2.05" stroke-linejoin="round"/>
<path d="M1821.37 109.42L1828.8 116.85L1821.37 124.28L1813.94 116.85Z" fill="none" stroke="#0c4a86" stroke-width="2.05" stroke-linejoin="round"/>
<path d="M1905.23 106.09L1912.66 113.52L1905.23 120.95L1897.8 113.52Z" fill="none" stroke="#0c4a86" stroke-width="2.05" stroke-linejoin="round"/>
<path d="M1989.1 105.26L1996.53 112.69L1989.1 120.12L1981.67 112.69Z" fill="none" stroke="#0c4a86" stroke-width="2.05" stroke-linejoin="round"/>
<text x="11.2" y="739" font-size="50.5">C</text>
<text x="98.1" y="783.2" font-size="24.3">n = 50/50</text>
<path d="M62.35 1188.51L604.4 1188.51" stroke="#bebebe" stroke-width="3.1" stroke-dasharray="10.9 18.33" stroke-linecap="round" fill="none"/>
<path d="M62.6 1209.3L62.6 793.5M62.6 1209.3L56.4 1209.3M62.6 1126.14L56.4 1126.14M62.6 1042.98L56.4 1042.98M62.6 959.82L56.4 959.82M62.6 876.66L56.4 876.66M62.6 793.5L56.4 793.5M82.7 1225.9L585.9 1225.9M82.7 1225.9L82.7 1232.1M208.5 1225.9L208.5 1232.1M334.3 1225.9L334.3 1232.1M460.1 1225.9L460.1 1232.1M585.9 1225.9L585.9 1232.1" stroke="#000" stroke-width="3.6" stroke-linecap="round" fill="none"/>
<text x="82.7" y="1255" font-size="19.4" text-anchor="middle">0</text>
<text x="208.5" y="1255" font-size="19.4" text-anchor="middle">45</text>
<text x="334.3" y="1255" font-size="19.4" text-anchor="middle">90</text>
<text x="460.1" y="1255" font-size="19.4" text-anchor="middle">135</text>
<text x="585.9" y="1255" font-size="19.4" text-anchor="middle">180</text>
<text transform="translate(53.2 1209.3) rotate(-90)" font-size="19.4" text-anchor="middle">0.0</text>
<text transform="translate(53.2 1126.14) rotate(-90)" font-size="19.4" text-anchor="middle">0.2</text>
<text transform="translate(53.2 1042.98) rotate(-90)" font-size="19.4" text-anchor="middle">0.4</text>
<text transform="translate(53.2 959.82) rotate(-90)" font-size="19.4" text-anchor="middle">0.6</text>
<text transform="translate(53.2 876.66) rotate(-90)" font-size="19.4" text-anchor="middle">0.8</text>
<text transform="translate(53.2 793.5) rotate(-90)" font-size="19.4" text-anchor="middle">1.0</text>
<text x="334.3" y="1283.1" font-size="29.3" text-anchor="middle">Angular difference</text>
<text transform="translate(24.1 1001.3) rotate(-90)" font-size="29" text-anchor="middle">Power (VM − unimodal)</text>
<path d="M88.16 1175.34L161.1 971.74" stroke="#2c0090" stroke-width="2.2" stroke-linecap="round"/>
<path d="M173.98 942.09L243.02 807.9" stroke="#2c0090" stroke-width="2.2" stroke-linecap="round"/>
<path d="M266.63 793.5L318.1 793.5" stroke="#2c0090" stroke-width="2.2" stroke-linecap="round"/>
<path d="M350.5 793.5L401.97 793.5" stroke="#2c0090" stroke-width="2.2" stroke-linecap="round"/>
<path d="M434.37 793.5L485.83 793.5" stroke="#2c0090" stroke-width="2.2" stroke-linecap="round"/>
<path d="M518.23 793.5L569.7 793.5" stroke="#2c0090" stroke-width="2.2" stroke-linecap="round"/>
<circle cx="82.7" cy="1190.59" r="6.05" fill="none" stroke="#2c0090" stroke-width="2.05"/>
<circle cx="166.57" cy="956.49" r="6.05" fill="none" stroke="#2c0090" stroke-width="2.05"/>
<circle cx="250.43" cy="793.5" r="6.05" fill="none" stroke="#2c0090" stroke-width="2.05"/>
<circle cx="334.3" cy="793.5" r="6.05" fill="none" stroke="#2c0090" stroke-width="2.05"/>
<circle cx="418.17" cy="793.5" r="6.05" fill="none" stroke="#2c0090" stroke-width="2.05"/>
<circle cx="502.03" cy="793.5" r="6.05" fill="none" stroke="#2c0090" stroke-width="2.05"/>
<circle cx="585.9" cy="793.5" r="6.05" fill="none" stroke="#2c0090" stroke-width="2.05"/>
<path d="M88.42 1173.36L160.84 981.63" stroke="#cc00cc" stroke-width="2.2" stroke-linecap="round" stroke-dasharray="0.2,8.6"/>
<path d="M173.63 951.9L243.37 808.08" stroke="#cc00cc" stroke-width="2.2" stroke-linecap="round" stroke-dasharray="0.2,8.6"/>
<path d="M266.63 793.5L318.1 793.5" stroke="#cc00cc" stroke-width="2.2" stroke-linecap="round" stroke-dasharray="0.2,8.6"/>
<path d="M350.5 793.5L401.97 793.5" stroke="#cc00cc" stroke-width="2.2" stroke-linecap="round" stroke-dasharray="0.2,8.6"/>
<path d="M434.37 793.5L485.83 793.5" stroke="#cc00cc" stroke-width="2.2" stroke-linecap="round" stroke-dasharray="0.2,8.6"/>
<path d="M518.23 793.5L569.7 793.5" stroke="#cc00cc" stroke-width="2.2" stroke-linecap="round" stroke-dasharray="0.2,8.6"/>
<circle cx="82.7" cy="1188.51" r="6.05" fill="none" stroke="#cc00cc" stroke-width="2.05"/>
<circle cx="166.57" cy="966.47" r="6.05" fill="none" stroke="#cc00cc" stroke-width="2.05"/>
<circle cx="250.43" cy="793.5" r="6.05" fill="none" stroke="#cc00cc" stroke-width="2.05"/>
<circle cx="334.3" cy="793.5" r="6.05" fill="none" stroke="#cc00cc" stroke-width="2.05"/>
<circle cx="418.17" cy="793.5" r="6.05" fill="none" stroke="#cc00cc" stroke-width="2.05"/>
<circle cx="502.03" cy="793.5" r="6.05" fill="none" stroke="#cc00cc" stroke-width="2.05"/>
<circle cx="585.9" cy="793.5" r="6.05" fill="none" stroke="#cc00cc" stroke-width="2.05"/>
<path d="M86.93 1174.95L162.33 896.46" stroke="#125c00" stroke-width="2.2" stroke-linecap="round" stroke-dasharray="0.2,9,6,9.2"/>
<path d="M177.79 869.13L239.21 805.18" stroke="#125c00" stroke-width="2.2" stroke-linecap="round" stroke-dasharray="0.2,9,6,9.2"/>
<path d="M266.63 793.5L318.1 793.5" stroke="#125c00" stroke-width="2.2" stroke-linecap="round" stroke-dasharray="0.2,9,6,9.2"/>
<path d="M350.5 793.5L401.97 793.5" stroke="#125c00" stroke-width="2.2" stroke-linecap="round" stroke-dasharray="0.2,9,6,9.2"/>
<path d="M434.37 793.5L485.83 793.5" stroke="#125c00" stroke-width="2.2" stroke-linecap="round" stroke-dasharray="0.2,9,6,9.2"/>
<path d="M518.23 793.5L569.7 793.5" stroke="#125c00" stroke-width="2.2" stroke-linecap="round" stroke-dasharray="0.2,9,6,9.2"/>
<circle cx="82.7" cy="1190.59" r="6.05" fill="none" stroke="#125c00" stroke-width="2.05"/>
<circle cx="166.57" cy="880.82" r="6.05" fill="none" stroke="#125c00" stroke-width="2.05"/>
<circle cx="250.43" cy="793.5" r="6.05" fill="none" stroke="#125c00" stroke-width="2.05"/>
<circle cx="334.3" cy="793.5" r="6.05" fill="none" stroke="#125c00" stroke-width="2.05"/>
<circle cx="418.17" cy="793.5" r="6.05" fill="none" stroke="#125c00" stroke-width="2.05"/>
<circle cx="502.03" cy="793.5" r="6.05" fill="none" stroke="#125c00" stroke-width="2.05"/>
<circle cx="585.9" cy="793.5" r="6.05" fill="none" stroke="#125c00" stroke-width="2.05"/>
<path d="M87.14 1187.9L162.13 924.67" stroke="#3f5ff5" stroke-width="2.2" stroke-linecap="round" stroke-dasharray="12.9,9.1"/>
<path d="M176.08 895.98L240.92 806.61" stroke="#3f5ff5" stroke-width="2.2" stroke-linecap="round" stroke-dasharray="12.9,9.1"/>
<path d="M266.63 793.5L318.1 793.5" stroke="#3f5ff5" stroke-width="2.2" stroke-linecap="round" stroke-dasharray="12.9,9.1"/>
<path d="M350.48 794.3L401.99 796.86" stroke="#3f5ff5" stroke-width="2.2" stroke-linecap="round" stroke-dasharray="12.9,9.1"/>
<path d="M422.67 813.22L497.53 1071.91" stroke="#3f5ff5" stroke-width="2.2" stroke-linecap="round" stroke-dasharray="12.9,9.1"/>
<path d="M511.26 1100.79L576.67 1195.15" stroke="#3f5ff5" stroke-width="2.2" stroke-linecap="round" stroke-dasharray="12.9,9.1"/>
<circle cx="82.7" cy="1203.48" r="6.05" fill="none" stroke="#3f5ff5" stroke-width="2.05"/>
<circle cx="166.57" cy="909.09" r="6.05" fill="none" stroke="#3f5ff5" stroke-width="2.05"/>
<circle cx="250.43" cy="793.5" r="6.05" fill="none" stroke="#3f5ff5" stroke-width="2.05"/>
<circle cx="334.3" cy="793.5" r="6.05" fill="none" stroke="#3f5ff5" stroke-width="2.05"/>
<circle cx="418.17" cy="797.66" r="6.05" fill="none" stroke="#3f5ff5" stroke-width="2.05"/>
<circle cx="502.03" cy="1087.47" r="6.05" fill="none" stroke="#3f5ff5" stroke-width="2.05"/>
<circle cx="585.9" cy="1208.47" r="6.05" fill="none" stroke="#3f5ff5" stroke-width="2.05"/>
<path d="M88.41 1174.6L160.85 982.46" stroke="#8b0000" stroke-width="2.2" stroke-linecap="round" stroke-dasharray="0.2,8.6"/>
<path d="M173.63 952.73L243.37 808.91" stroke="#8b0000" stroke-width="2.2" stroke-linecap="round" stroke-dasharray="0.2,8.6"/>
<path d="M266.63 794.17L318.1 793.66" stroke="#8b0000" stroke-width="2.2" stroke-linecap="round" stroke-dasharray="0.2,8.6"/>
<path d="M350.5 793.5L401.97 793.5" stroke="#8b0000" stroke-width="2.2" stroke-linecap="round" stroke-dasharray="0.2,8.6"/>
<path d="M434.37 793.5L485.83 793.5" stroke="#8b0000" stroke-width="2.2" stroke-linecap="round" stroke-dasharray="0.2,8.6"/>
<path d="M518.23 793.5L569.7 793.5" stroke="#8b0000" stroke-width="2.2" stroke-linecap="round" stroke-dasharray="0.2,8.6"/>
<circle cx="82.7" cy="1189.76" r="6.05" fill="none" stroke="#8b0000" stroke-width="2.05"/>
<circle cx="166.57" cy="967.3" r="6.05" fill="none" stroke="#8b0000" stroke-width="2.05"/>
<circle cx="250.43" cy="794.33" r="6.05" fill="none" stroke="#8b0000" stroke-width="2.05"/>
<circle cx="334.3" cy="793.5" r="6.05" fill="none" stroke="#8b0000" stroke-width="2.05"/>
<circle cx="418.17" cy="793.5" r="6.05" fill="none" stroke="#8b0000" stroke-width="2.05"/>
<circle cx="502.03" cy="793.5" r="6.05" fill="none" stroke="#8b0000" stroke-width="2.05"/>
<circle cx="585.9" cy="793.5" r="6.05" fill="none" stroke="#8b0000" stroke-width="2.05"/>
<path d="M86.6 1176.94L162.67 870.35" stroke="#3caa78" stroke-width="2.2" stroke-linecap="round" stroke-dasharray="0.2,9,6,9.2"/>
<path d="M180.28 845.99L236.72 810.45" stroke="#3caa78" stroke-width="2.2" stroke-linecap="round" stroke-dasharray="0.2,9,6,9.2"/>
<path d="M253.86 817.65L330.88 1173.92" stroke="#3caa78" stroke-width="2.2" stroke-linecap="round" stroke-dasharray="0.2,9,6,9.2"/>
<path d="M337.72 1173.92L414.74 817.65" stroke="#3caa78" stroke-width="2.2" stroke-linecap="round" stroke-dasharray="0.2,9,6,9.2"/>
<path d="M431.78 810.59L488.42 847.09" stroke="#3caa78" stroke-width="2.2" stroke-linecap="round" stroke-dasharray="0.2,9,6,9.2"/>
<path d="M505.97 871.58L581.96 1174.87" stroke="#3caa78" stroke-width="2.2" stroke-linecap="round" stroke-dasharray="0.2,9,6,9.2"/>
<path d="M82.7 1183.32L90.8 1197.34L74.6 1197.34Z" fill="none" stroke="#3caa78" stroke-width="2.05" stroke-linejoin="round"/>
<path d="M166.57 845.27L174.66 859.3L158.47 859.3Z" fill="none" stroke="#3caa78" stroke-width="2.05" stroke-linejoin="round"/>
<path d="M250.43 792.47L258.53 806.49L242.34 806.49Z" fill="none" stroke="#3caa78" stroke-width="2.05" stroke-linejoin="round"/>
<path d="M334.3 1180.41L342.4 1194.43L326.2 1194.43Z" fill="none" stroke="#3caa78" stroke-width="2.05" stroke-linejoin="round"/>
<path d="M418.17 792.47L426.26 806.49L410.07 806.49Z" fill="none" stroke="#3caa78" stroke-width="2.05" stroke-linejoin="round"/>
<path d="M502.03 846.52L510.13 860.54L493.94 860.54Z" fill="none" stroke="#3caa78" stroke-width="2.05" stroke-linejoin="round"/>
<path d="M585.9 1181.24L594 1195.26L577.8 1195.26Z" fill="none" stroke="#3caa78" stroke-width="2.05" stroke-linejoin="round"/>
<path d="M98.88 1200.12L150.39 1202.68" stroke="#6e0030" stroke-width="2.2" stroke-linecap="round" stroke-dasharray="6.3,11.1"/>
<path d="M182.74 1204.44L234.26 1207.51" stroke="#6e0030" stroke-width="2.2" stroke-linecap="round" stroke-dasharray="6.3,11.1"/>
<path d="M266.61 1207.67L318.12 1205.11" stroke="#6e0030" stroke-width="2.2" stroke-linecap="round" stroke-dasharray="6.3,11.1"/>
<path d="M349.83 1199.69L402.64 1183.98" stroke="#6e0030" stroke-width="2.2" stroke-linecap="round" stroke-dasharray="6.3,11.1"/>
<path d="M434.37 1179.2L485.83 1178.69" stroke="#6e0030" stroke-width="2.2" stroke-linecap="round" stroke-dasharray="6.3,11.1"/>
<path d="M518.23 1178.69L569.7 1179.2" stroke="#6e0030" stroke-width="2.2" stroke-linecap="round" stroke-dasharray="6.3,11.1"/>
<path d="M82.7 1191.89L90.13 1199.32L82.7 1206.75L75.27 1199.32Z" fill="none" stroke="#6e0030" stroke-width="2.05" stroke-linejoin="round"/>
<path d="M166.57 1196.05L174 1203.48L166.57 1210.91L159.14 1203.48Z" fill="none" stroke="#6e0030" stroke-width="2.05" stroke-linejoin="round"/>
<path d="M250.43 1201.04L257.86 1208.47L250.43 1215.9L243 1208.47Z" fill="none" stroke="#6e0030" stroke-width="2.05" stroke-linejoin="round"/>
<path d="M334.3 1196.88L341.73 1204.31L334.3 1211.74L326.87 1204.31Z" fill="none" stroke="#6e0030" stroke-width="2.05" stroke-linejoin="round"/>
<path d="M418.17 1171.93L425.6 1179.36L418.17 1186.79L410.74 1179.36Z" fill="none" stroke="#6e0030" stroke-width="2.05" stroke-linejoin="round"/>
<path d="M502.03 1171.1L509.46 1178.53L502.03 1185.96L494.6 1178.53Z" fill="none" stroke="#6e0030" stroke-width="2.05" stroke-linejoin="round"/>
<path d="M585.9 1171.93L593.33 1179.36L585.9 1186.79L578.47 1179.36Z" fill="none" stroke="#6e0030" stroke-width="2.05" stroke-linejoin="round"/>
<path d="M88.12 1189.88L161.15 984.23" stroke="#0c4a86" stroke-width="2.2" stroke-linecap="round" stroke-dasharray="12.9,9.1"/>
<path d="M173.58 954.36L243.42 808.93" stroke="#0c4a86" stroke-width="2.2" stroke-linecap="round" stroke-dasharray="12.9,9.1"/>
<path d="M266.63 794.17L318.1 793.66" stroke="#0c4a86" stroke-width="2.2" stroke-linecap="round" stroke-dasharray="12.9,9.1"/>
<path d="M350.5 793.5L401.97 793.5" stroke="#0c4a86" stroke-width="2.2" stroke-linecap="round" stroke-dasharray="12.9,9.1"/>
<path d="M434.37 793.5L485.83 793.5" stroke="#0c4a86" stroke-width="2.2" stroke-linecap="round" stroke-dasharray="12.9,9.1"/>
<path d="M518.23 793.5L569.7 793.5" stroke="#0c4a86" stroke-width="2.2" stroke-linecap="round" stroke-dasharray="12.9,9.1"/>
<path d="M82.7 1197.71L90.13 1205.14L82.7 1212.57L75.27 1205.14Z" fill="none" stroke="#0c4a86" stroke-width="2.05" stroke-linejoin="round"/>
<path d="M166.57 961.54L174 968.97L166.57 976.4L159.14 968.97Z" fill="none" stroke="#0c4a86" stroke-width="2.05" stroke-linejoin="round"/>
<path d="M250.43 786.9L257.86 794.33L250.43 801.76L243 794.33Z" fill="none" stroke="#0c4a86" stroke-width="2.05" stroke-linejoin="round"/>
<path d="M334.3 786.07L341.73 793.5L334.3 800.93L326.87 793.5Z" fill="none" stroke="#0c4a86" stroke-width="2.05" stroke-linejoin="round"/>
<path d="M418.17 786.07L425.6 793.5L418.17 800.93L410.74 793.5Z" fill="none" stroke="#0c4a86" stroke-width="2.05" stroke-linejoin="round"/>
<path d="M502.03 786.07L509.46 793.5L502.03 800.93L494.6 793.5Z" fill="none" stroke="#0c4a86" stroke-width="2.05" stroke-linejoin="round"/>
<path d="M585.9 786.07L593.33 793.5L585.9 800.93L578.47 793.5Z" fill="none" stroke="#0c4a86" stroke-width="2.05" stroke-linejoin="round"/>
<text x="712.3" y="739" font-size="50.5">D</text>
<text x="799.7" y="783.2" font-size="24.3">n = 20/30</text>
<path d="M763.95 1188.51L1306 1188.51" stroke="#bebebe" stroke-width="3.1" stroke-dasharray="10.9 18.33" stroke-linecap="round" fill="none"/>
<path d="M764.2 1209.3L764.2 793.5M764.2 1209.3L758 1209.3M764.2 1126.14L758 1126.14M764.2 1042.98L758 1042.98M764.2 959.82L758 959.82M764.2 876.66L758 876.66M764.2 793.5L758 793.5M784.3 1225.9L1287.5 1225.9M784.3 1225.9L784.3 1232.1M910.1 1225.9L910.1 1232.1M1035.9 1225.9L1035.9 1232.1M1161.7 1225.9L1161.7 1232.1M1287.5 1225.9L1287.5 1232.1" stroke="#000" stroke-width="3.6" stroke-linecap="round" fill="none"/>
<text x="784.3" y="1255" font-size="19.4" text-anchor="middle">0</text>
<text x="910.1" y="1255" font-size="19.4" text-anchor="middle">45</text>
<text x="1035.9" y="1255" font-size="19.4" text-anchor="middle">90</text>
<text x="1161.7" y="1255" font-size="19.4" text-anchor="middle">135</text>
<text x="1287.5" y="1255" font-size="19.4" text-anchor="middle">180</text>
<text transform="translate(754.8 1209.3) rotate(-90)" font-size="19.4" text-anchor="middle">0.0</text>
<text transform="translate(754.8 1126.14) rotate(-90)" font-size="19.4" text-anchor="middle">0.2</text>
<text transform="translate(754.8 1042.98) rotate(-90)" font-size="19.4" text-anchor="middle">0.4</text>
<text transform="translate(754.8 959.82) rotate(-90)" font-size="19.4" text-anchor="middle">0.6</text>
<text transform="translate(754.8 876.66) rotate(-90)" font-size="19.4" text-anchor="middle">0.8</text>
<text transform="translate(754.8 793.5) rotate(-90)" font-size="19.4" text-anchor="middle">1.0</text>
<text x="1035.9" y="1283.1" font-size="29.3" text-anchor="middle">Angular difference</text>
<text transform="translate(725.7 1001.3) rotate(-90)" font-size="29" text-anchor="middle">Power (VM − unimodal)</text>
<path d="M794.35 1177.88L858.12 1097.27" stroke="#2c0090" stroke-width="2.2" stroke-linecap="round"/>
<path d="M873.49 1069.26L946.71 858.7" stroke="#2c0090" stroke-width="2.2" stroke-linecap="round"/>
<path d="M966.02 835.22L1021.92 802.51" stroke="#2c0090" stroke-width="2.2" stroke-linecap="round"/>
<path d="M1052.1 794.17L1103.57 793.66" stroke="#2c0090" stroke-width="2.2" stroke-linecap="round"/>
<path d="M1135.97 793.5L1187.43 793.5" stroke="#2c0090" stroke-width="2.2" stroke-linecap="round"/>
<path d="M1219.83 793.5L1271.3 793.5" stroke="#2c0090" stroke-width="2.2" stroke-linecap="round"/>
<circle cx="784.3" cy="1190.59" r="6.05" fill="none" stroke="#2c0090" stroke-width="2.05"/>
<circle cx="868.17" cy="1084.56" r="6.05" fill="none" stroke="#2c0090" stroke-width="2.05"/>
<circle cx="952.03" cy="843.4" r="6.05" fill="none" stroke="#2c0090" stroke-width="2.05"/>
<circle cx="1035.9" cy="794.33" r="6.05" fill="none" stroke="#2c0090" stroke-width="2.05"/>
<circle cx="1119.77" cy="793.5" r="6.05" fill="none" stroke="#2c0090" stroke-width="2.05"/>
<circle cx="1203.63" cy="793.5" r="6.05" fill="none" stroke="#2c0090" stroke-width="2.05"/>
<circle cx="1287.5" cy="793.5" r="6.05" fill="none" stroke="#2c0090" stroke-width="2.05"/>
<path d="M794.4 1174.6L858.07 1094.73" stroke="#cc00cc" stroke-width="2.2" stroke-linecap="round" stroke-dasharray="0.2,8.6"/>
<path d="M873.67 1066.83L946.53 865.28" stroke="#cc00cc" stroke-width="2.2" stroke-linecap="round" stroke-dasharray="0.2,8.6"/>
<path d="M965.53 841.08L1022.41 803.3" stroke="#cc00cc" stroke-width="2.2" stroke-linecap="round" stroke-dasharray="0.2,8.6"/>
<path d="M1052.1 794.17L1103.57 793.66" stroke="#cc00cc" stroke-width="2.2" stroke-linecap="round" stroke-dasharray="0.2,8.6"/>
<path d="M1135.97 793.5L1187.43 793.5" stroke="#cc00cc" stroke-width="2.2" stroke-linecap="round" stroke-dasharray="0.2,8.6"/>
<path d="M1219.83 793.5L1271.3 793.5" stroke="#cc00cc" stroke-width="2.2" stroke-linecap="round" stroke-dasharray="0.2,8.6"/>
<circle cx="784.3" cy="1187.26" r="6.05" fill="none" stroke="#cc00cc" stroke-width="2.05"/>
<circle cx="868.17" cy="1082.07" r="6.05" fill="none" stroke="#cc00cc" stroke-width="2.05"/>
<circle cx="952.03" cy="850.05" r="6.05" fill="none" stroke="#cc00cc" stroke-width="2.05"/>
<circle cx="1035.9" cy="794.33" r="6.05" fill="none" stroke="#cc00cc" stroke-width="2.05"/>
<circle cx="1119.77" cy="793.5" r="6.05" fill="none" stroke="#cc00cc" stroke-width="2.05"/>
<circle cx="1203.63" cy="793.5" r="6.05" fill="none" stroke="#cc00cc" stroke-width="2.05"/>
<circle cx="1287.5" cy="793.5" r="6.05" fill="none" stroke="#cc00cc" stroke-width="2.05"/>
<path d="M791.52 1176.09L860.94 1036.69" stroke="#125c00" stroke-width="2.2" stroke-linecap="round" stroke-dasharray="0.2,9,6,9.2"/>
<path d="M874.05 1007.1L946.15 822.31" stroke="#125c00" stroke-width="2.2" stroke-linecap="round" stroke-dasharray="0.2,9,6,9.2"/>
<path d="M968.02 804.61L1019.91 796.12" stroke="#125c00" stroke-width="2.2" stroke-linecap="round" stroke-dasharray="0.2,9,6,9.2"/>
<path d="M1052.1 793.5L1103.57 793.5" stroke="#125c00" stroke-width="2.2" stroke-linecap="round" stroke-dasharray="0.2,9,6,9.2"/>
<path d="M1135.97 793.5L1187.43 793.5" stroke="#125c00" stroke-width="2.2" stroke-linecap="round" stroke-dasharray="0.2,9,6,9.2"/>
<path d="M1219.83 793.5L1271.3 793.5" stroke="#125c00" stroke-width="2.2" stroke-linecap="round" stroke-dasharray="0.2,9,6,9.2"/>
<circle cx="784.3" cy="1190.59" r="6.05" fill="none" stroke="#125c00" stroke-width="2.05"/>
<circle cx="868.17" cy="1022.19" r="6.05" fill="none" stroke="#125c00" stroke-width="2.05"/>
<circle cx="952.03" cy="807.22" r="6.05" fill="none" stroke="#125c00" stroke-width="2.05"/>
<circle cx="1035.9" cy="793.5" r="6.05" fill="none" stroke="#125c00" stroke-width="2.05"/>
<circle cx="1119.77" cy="793.5" r="6.05" fill="none" stroke="#125c00" stroke-width="2.05"/>
<circle cx="1203.63" cy="793.5" r="6.05" fill="none" stroke="#125c00" stroke-width="2.05"/>
<circle cx="1287.5" cy="793.5" r="6.05" fill="none" stroke="#125c00" stroke-width="2.05"/>
<path d="M792.57 1187.05L859.9 1073.54" stroke="#3f5ff5" stroke-width="2.2" stroke-linecap="round" stroke-dasharray="12.9,9.1"/>
<path d="M873.55 1044.33L946.65 837.05" stroke="#3f5ff5" stroke-width="2.2" stroke-linecap="round" stroke-dasharray="12.9,9.1"/>
<path d="M967.43 816.74L1020.5 799.37" stroke="#3f5ff5" stroke-width="2.2" stroke-linecap="round" stroke-dasharray="12.9,9.1"/>
<path d="M1051.98 796.32L1103.69 802.73" stroke="#3f5ff5" stroke-width="2.2" stroke-linecap="round" stroke-dasharray="12.9,9.1"/>
<path d="M1126.89 819.28L1196.51 961.49" stroke="#3f5ff5" stroke-width="2.2" stroke-linecap="round" stroke-dasharray="12.9,9.1"/>
<path d="M1210.63 990.65L1280.5 1136.48" stroke="#3f5ff5" stroke-width="2.2" stroke-linecap="round" stroke-dasharray="12.9,9.1"/>
<circle cx="784.3" cy="1200.98" r="6.05" fill="none" stroke="#3f5ff5" stroke-width="2.05"/>
<circle cx="868.17" cy="1059.61" r="6.05" fill="none" stroke="#3f5ff5" stroke-width="2.05"/>
<circle cx="952.03" cy="821.77" r="6.05" fill="none" stroke="#3f5ff5" stroke-width="2.05"/>
<circle cx="1035.9" cy="794.33" r="6.05" fill="none" stroke="#3f5ff5" stroke-width="2.05"/>
<circle cx="1119.77" cy="804.73" r="6.05" fill="none" stroke="#3f5ff5" stroke-width="2.05"/>
<circle cx="1203.63" cy="976.04" r="6.05" fill="none" stroke="#3f5ff5" stroke-width="2.05"/>
<circle cx="1287.5" cy="1151.09" r="6.05" fill="none" stroke="#3f5ff5" stroke-width="2.05"/>
<path d="M794.6 1176L857.87 1099.15" stroke="#8b0000" stroke-width="2.2" stroke-linecap="round" stroke-dasharray="0.2,8.6"/>
<path d="M873.64 1071.39L946.56 868.21" stroke="#8b0000" stroke-width="2.2" stroke-linecap="round" stroke-dasharray="0.2,8.6"/>
<path d="M965.31 843.68L1022.62 803.61" stroke="#8b0000" stroke-width="2.2" stroke-linecap="round" stroke-dasharray="0.2,8.6"/>
<path d="M1052.1 794.17L1103.57 793.66" stroke="#8b0000" stroke-width="2.2" stroke-linecap="round" stroke-dasharray="0.2,8.6"/>
<path d="M1135.97 793.5L1187.43 793.5" stroke="#8b0000" stroke-width="2.2" stroke-linecap="round" stroke-dasharray="0.2,8.6"/>
<path d="M1219.83 793.5L1271.3 793.5" stroke="#8b0000" stroke-width="2.2" stroke-linecap="round" stroke-dasharray="0.2,8.6"/>
<circle cx="784.3" cy="1188.51" r="6.05" fill="none" stroke="#8b0000" stroke-width="2.05"/>
<circle cx="868.17" cy="1086.64" r="6.05" fill="none" stroke="#8b0000" stroke-width="2.05"/>
<circle cx="952.03" cy="852.96" r="6.05" fill="none" stroke="#8b0000" stroke-width="2.05"/>
<circle cx="1035.9" cy="794.33" r="6.05" fill="none" stroke="#8b0000" stroke-width="2.05"/>
<circle cx="1119.77" cy="793.5" r="6.05" fill="none" stroke="#8b0000" stroke-width="2.05"/>
<circle cx="1203.63" cy="793.5" r="6.05" fill="none" stroke="#8b0000" stroke-width="2.05"/>
<circle cx="1287.5" cy="793.5" r="6.05" fill="none" stroke="#8b0000" stroke-width="2.05"/>
<path d="M790.54 1177.72L861.92 1006.79" stroke="#3caa78" stroke-width="2.2" stroke-linecap="round" stroke-dasharray="0.2,9,6,9.2"/>
<path d="M877.44 978.55L942.76 884.95" stroke="#3caa78" stroke-width="2.2" stroke-linecap="round" stroke-dasharray="0.2,9,6,9.2"/>
<path d="M956.13 887.34L1031.8 1176.99" stroke="#3caa78" stroke-width="2.2" stroke-linecap="round" stroke-dasharray="0.2,9,6,9.2"/>
<path d="M1040.03 1177L1115.64 889.83" stroke="#3caa78" stroke-width="2.2" stroke-linecap="round" stroke-dasharray="0.2,9,6,9.2"/>
<path d="M1129.35 887.23L1194.05 975.45" stroke="#3caa78" stroke-width="2.2" stroke-linecap="round" stroke-dasharray="0.2,9,6,9.2"/>
<path d="M1209.82 1003.48L1281.31 1176.45" stroke="#3caa78" stroke-width="2.2" stroke-linecap="round" stroke-dasharray="0.2,9,6,9.2"/>
<path d="M784.3 1183.32L792.4 1197.34L776.2 1197.34Z" fill="none" stroke="#3caa78" stroke-width="2.05" stroke-linejoin="round"/>
<path d="M868.17 982.49L876.26 996.51L860.07 996.51Z" fill="none" stroke="#3caa78" stroke-width="2.05" stroke-linejoin="round"/>
<path d="M952.03 862.32L960.13 876.35L943.94 876.35Z" fill="none" stroke="#3caa78" stroke-width="2.05" stroke-linejoin="round"/>
<path d="M1035.9 1183.32L1044 1197.34L1027.8 1197.34Z" fill="none" stroke="#3caa78" stroke-width="2.05" stroke-linejoin="round"/>
<path d="M1119.77 864.82L1127.86 878.84L1111.67 878.84Z" fill="none" stroke="#3caa78" stroke-width="2.05" stroke-linejoin="round"/>
<path d="M1203.63 979.16L1211.73 993.19L1195.54 993.19Z" fill="none" stroke="#3caa78" stroke-width="2.05" stroke-linejoin="round"/>
<path d="M1287.5 1182.07L1295.6 1196.1L1279.4 1196.1Z" fill="none" stroke="#3caa78" stroke-width="2.05" stroke-linejoin="round"/>
<path d="M800.5 1199.15L851.97 1199.91" stroke="#6e0030" stroke-width="2.2" stroke-linecap="round" stroke-dasharray="6.3,11.1"/>
<path d="M884.32 1201.43L935.88 1205.52" stroke="#6e0030" stroke-width="2.2" stroke-linecap="round" stroke-dasharray="6.3,11.1"/>
<path d="M968.23 1206.81L1019.7 1206.81" stroke="#6e0030" stroke-width="2.2" stroke-linecap="round" stroke-dasharray="6.3,11.1"/>
<path d="M1052.04 1205.37L1103.63 1200.76" stroke="#6e0030" stroke-width="2.2" stroke-linecap="round" stroke-dasharray="6.3,11.1"/>
<path d="M1135.97 1199.16L1187.43 1198.65" stroke="#6e0030" stroke-width="2.2" stroke-linecap="round" stroke-dasharray="6.3,11.1"/>
<path d="M1219.83 1198.09L1271.3 1196.81" stroke="#6e0030" stroke-width="2.2" stroke-linecap="round" stroke-dasharray="6.3,11.1"/>
<path d="M784.3 1191.47L791.73 1198.9L784.3 1206.34L776.87 1198.9Z" fill="none" stroke="#6e0030" stroke-width="2.05" stroke-linejoin="round"/>
<path d="M868.17 1192.72L875.6 1200.15L868.17 1207.58L860.74 1200.15Z" fill="none" stroke="#6e0030" stroke-width="2.05" stroke-linejoin="round"/>
<path d="M952.03 1199.38L959.46 1206.81L952.03 1214.24L944.6 1206.81Z" fill="none" stroke="#6e0030" stroke-width="2.05" stroke-linejoin="round"/>
<path d="M1035.9 1199.38L1043.33 1206.81L1035.9 1214.24L1028.47 1206.81Z" fill="none" stroke="#6e0030" stroke-width="2.05" stroke-linejoin="round"/>
<path d="M1119.77 1191.89L1127.2 1199.32L1119.77 1206.75L1112.34 1199.32Z" fill="none" stroke="#6e0030" stroke-width="2.05" stroke-linejoin="round"/>
<path d="M1203.63 1191.06L1211.06 1198.49L1203.63 1205.92L1196.2 1198.49Z" fill="none" stroke="#6e0030" stroke-width="2.05" stroke-linejoin="round"/>
<path d="M1287.5 1188.98L1294.93 1196.41L1287.5 1203.84L1280.07 1196.41Z" fill="none" stroke="#6e0030" stroke-width="2.05" stroke-linejoin="round"/>
<path d="M796.21 1190L856.26 1134.63" stroke="#0c4a86" stroke-width="2.2" stroke-linecap="round" stroke-dasharray="12.9,9.1"/>
<path d="M873.45 1108.33L946.75 895.72" stroke="#0c4a86" stroke-width="2.2" stroke-linecap="round" stroke-dasharray="12.9,9.1"/>
<path d="M964.69 870.3L1023.24 823.56" stroke="#0c4a86" stroke-width="2.2" stroke-linecap="round" stroke-dasharray="12.9,9.1"/>
<path d="M1051.98 811.47L1103.69 805.06" stroke="#0c4a86" stroke-width="2.2" stroke-linecap="round" stroke-dasharray="12.9,9.1"/>
<path d="M1135.96 802.58L1187.44 801.05" stroke="#0c4a86" stroke-width="2.2" stroke-linecap="round" stroke-dasharray="12.9,9.1"/>
<path d="M1219.83 800.57L1271.3 800.57" stroke="#0c4a86" stroke-width="2.2" stroke-linecap="round" stroke-dasharray="12.9,9.1"/>
<path d="M784.3 1193.55L791.73 1200.98L784.3 1208.41L776.87 1200.98Z" fill="none" stroke="#0c4a86" stroke-width="2.05" stroke-linejoin="round"/>
<path d="M868.17 1116.22L875.6 1123.65L868.17 1131.08L860.74 1123.65Z" fill="none" stroke="#0c4a86" stroke-width="2.05" stroke-linejoin="round"/>
<path d="M952.03 872.97L959.46 880.4L952.03 887.83L944.6 880.4Z" fill="none" stroke="#0c4a86" stroke-width="2.05" stroke-linejoin="round"/>
<path d="M1035.9 806.03L1043.33 813.46L1035.9 820.89L1028.47 813.46Z" fill="none" stroke="#0c4a86" stroke-width="2.05" stroke-linejoin="round"/>
<path d="M1119.77 795.63L1127.2 803.06L1119.77 810.49L1112.34 803.06Z" fill="none" stroke="#0c4a86" stroke-width="2.05" stroke-linejoin="round"/>
<path d="M1203.63 793.14L1211.06 800.57L1203.63 808L1196.2 800.57Z" fill="none" stroke="#0c4a86" stroke-width="2.05" stroke-linejoin="round"/>
<path d="M1287.5 793.14L1294.93 800.57L1287.5 808L1280.07 800.57Z" fill="none" stroke="#0c4a86" stroke-width="2.05" stroke-linejoin="round"/>
<text x="1413.9" y="739" font-size="50.5">E</text>
<text x="1501.3" y="783.2" font-size="24.3">n = 10/50</text>
<path d="M1465.55 1188.51L2007.6 1188.51" stroke="#bebebe" stroke-width="3.1" stroke-dasharray="10.9 18.33" stroke-linecap="round" fill="none"/>
<path d="M1465.8 1209.3L1465.8 793.5M1465.8 1209.3L1459.6 1209.3M1465.8 1126.14L1459.6 1126.14M1465.8 1042.98L1459.6 1042.98M1465.8 959.82L1459.6 959.82M1465.8 876.66L1459.6 876.66M1465.8 793.5L1459.6 793.5M1485.9 1225.9L1989.1 1225.9M1485.9 1225.9L1485.9 1232.1M1611.7 1225.9L1611.7 1232.1M1737.5 1225.9L1737.5 1232.1M1863.3 1225.9L1863.3 1232.1M1989.1 1225.9L1989.1 1232.1" stroke="#000" stroke-width="3.6" stroke-linecap="round" fill="none"/>
<text x="1485.9" y="1255" font-size="19.4" text-anchor="middle">0</text>
<text x="1611.7" y="1255" font-size="19.4" text-anchor="middle">45</text>
<text x="1737.5" y="1255" font-size="19.4" text-anchor="middle">90</text>
<text x="1863.3" y="1255" font-size="19.4" text-anchor="middle">135</text>
<text x="1989.1" y="1255" font-size="19.4" text-anchor="middle">180</text>
<text transform="translate(1456.4 1209.3) rotate(-90)" font-size="19.4" text-anchor="middle">0.0</text>
<text transform="translate(1456.4 1126.14) rotate(-90)" font-size="19.4" text-anchor="middle">0.2</text>
<text transform="translate(1456.4 1042.98) rotate(-90)" font-size="19.4" text-anchor="middle">0.4</text>
<text transform="translate(1456.4 959.82) rotate(-90)" font-size="19.4" text-anchor="middle">0.6</text>
<text transform="translate(1456.4 876.66) rotate(-90)" font-size="19.4" text-anchor="middle">0.8</text>
<text transform="translate(1456.4 793.5) rotate(-90)" font-size="19.4" text-anchor="middle">1.0</text>
<text x="1737.5" y="1283.1" font-size="29.3" text-anchor="middle">Angular difference</text>
<text transform="translate(1427.3 1001.3) rotate(-90)" font-size="29" text-anchor="middle">Power (VM − unimodal)</text>
<path d="M1498.75 1182.8L1556.92 1138.09" stroke="#2c0090" stroke-width="2.2" stroke-linecap="round"/>
<path d="M1575.79 1113.18L1647.61 933.7" stroke="#2c0090" stroke-width="2.2" stroke-linecap="round"/>
<path d="M1663.33 905.68L1727.8 819.37" stroke="#2c0090" stroke-width="2.2" stroke-linecap="round"/>
<path d="M1753.51 803.93L1805.35 795.96" stroke="#2c0090" stroke-width="2.2" stroke-linecap="round"/>
<path d="M1837.57 793.5L1889.03 793.5" stroke="#2c0090" stroke-width="2.2" stroke-linecap="round"/>
<path d="M1921.43 793.5L1972.9 793.5" stroke="#2c0090" stroke-width="2.2" stroke-linecap="round"/>
<circle cx="1485.9" cy="1192.67" r="6.05" fill="none" stroke="#2c0090" stroke-width="2.05"/>
<circle cx="1569.77" cy="1128.22" r="6.05" fill="none" stroke="#2c0090" stroke-width="2.05"/>
<circle cx="1653.63" cy="918.66" r="6.05" fill="none" stroke="#2c0090" stroke-width="2.05"/>
<circle cx="1737.5" cy="806.39" r="6.05" fill="none" stroke="#2c0090" stroke-width="2.05"/>
<circle cx="1821.37" cy="793.5" r="6.05" fill="none" stroke="#2c0090" stroke-width="2.05"/>
<circle cx="1905.23" cy="793.5" r="6.05" fill="none" stroke="#2c0090" stroke-width="2.05"/>
<circle cx="1989.1" cy="793.5" r="6.05" fill="none" stroke="#2c0090" stroke-width="2.05"/>
<path d="M1498.75 1180.72L1556.92 1136.01" stroke="#cc00cc" stroke-width="2.2" stroke-linecap="round" stroke-dasharray="0.2,8.6"/>
<path d="M1576.19 1111.27L1647.21 946.83" stroke="#cc00cc" stroke-width="2.2" stroke-linecap="round" stroke-dasharray="0.2,8.6"/>
<path d="M1662.97 918.72L1728.16 826.28" stroke="#cc00cc" stroke-width="2.2" stroke-linecap="round" stroke-dasharray="0.2,8.6"/>
<path d="M1753.28 809.37L1805.59 797.18" stroke="#cc00cc" stroke-width="2.2" stroke-linecap="round" stroke-dasharray="0.2,8.6"/>
<path d="M1837.57 793.5L1889.03 793.5" stroke="#cc00cc" stroke-width="2.2" stroke-linecap="round" stroke-dasharray="0.2,8.6"/>
<path d="M1921.43 793.5L1972.9 793.5" stroke="#cc00cc" stroke-width="2.2" stroke-linecap="round" stroke-dasharray="0.2,8.6"/>
<circle cx="1485.9" cy="1190.59" r="6.05" fill="none" stroke="#cc00cc" stroke-width="2.05"/>
<circle cx="1569.77" cy="1126.14" r="6.05" fill="none" stroke="#cc00cc" stroke-width="2.05"/>
<circle cx="1653.63" cy="931.96" r="6.05" fill="none" stroke="#cc00cc" stroke-width="2.05"/>
<circle cx="1737.5" cy="813.04" r="6.05" fill="none" stroke="#cc00cc" stroke-width="2.05"/>
<circle cx="1821.37" cy="793.5" r="6.05" fill="none" stroke="#cc00cc" stroke-width="2.05"/>
<circle cx="1905.23" cy="793.5" r="6.05" fill="none" stroke="#cc00cc" stroke-width="2.05"/>
<circle cx="1989.1" cy="793.5" r="6.05" fill="none" stroke="#cc00cc" stroke-width="2.05"/>
<path d="M1495.17 1181.46L1560.5 1087.87" stroke="#125c00" stroke-width="2.2" stroke-linecap="round" stroke-dasharray="0.2,9,6,9.2"/>
<path d="M1575.28 1059.35L1648.12 858.21" stroke="#125c00" stroke-width="2.2" stroke-linecap="round" stroke-dasharray="0.2,9,6,9.2"/>
<path d="M1667.71 834.96L1723.43 803.19" stroke="#125c00" stroke-width="2.2" stroke-linecap="round" stroke-dasharray="0.2,9,6,9.2"/>
<path d="M1753.7 794.84L1805.17 793.82" stroke="#125c00" stroke-width="2.2" stroke-linecap="round" stroke-dasharray="0.2,9,6,9.2"/>
<path d="M1837.57 793.5L1889.03 793.5" stroke="#125c00" stroke-width="2.2" stroke-linecap="round" stroke-dasharray="0.2,9,6,9.2"/>
<path d="M1921.43 793.5L1972.9 793.5" stroke="#125c00" stroke-width="2.2" stroke-linecap="round" stroke-dasharray="0.2,9,6,9.2"/>
<circle cx="1485.9" cy="1194.75" r="6.05" fill="none" stroke="#125c00" stroke-width="2.05"/>
<circle cx="1569.77" cy="1074.58" r="6.05" fill="none" stroke="#125c00" stroke-width="2.05"/>
<circle cx="1653.63" cy="842.98" r="6.05" fill="none" stroke="#125c00" stroke-width="2.05"/>
<circle cx="1737.5" cy="795.16" r="6.05" fill="none" stroke="#125c00" stroke-width="2.05"/>
<circle cx="1821.37" cy="793.5" r="6.05" fill="none" stroke="#125c00" stroke-width="2.05"/>
<circle cx="1905.23" cy="793.5" r="6.05" fill="none" stroke="#125c00" stroke-width="2.05"/>
<circle cx="1989.1" cy="793.5" r="6.05" fill="none" stroke="#125c00" stroke-width="2.05"/>
<path d="M1496.87 1189.9L1558.79 1122.67" stroke="#3f5ff5" stroke-width="2.2" stroke-linecap="round" stroke-dasharray="12.9,9.1"/>
<path d="M1575.13 1095.47L1648.27 886.96" stroke="#3f5ff5" stroke-width="2.2" stroke-linecap="round" stroke-dasharray="12.9,9.1"/>
<path d="M1665.87 861.05L1725.26 809.52" stroke="#3f5ff5" stroke-width="2.2" stroke-linecap="round" stroke-dasharray="12.9,9.1"/>
<path d="M1753.67 797.86L1805.2 794.54" stroke="#3f5ff5" stroke-width="2.2" stroke-linecap="round" stroke-dasharray="12.9,9.1"/>
<path d="M1837.57 793.5L1889.03 793.5" stroke="#3f5ff5" stroke-width="2.2" stroke-linecap="round" stroke-dasharray="12.9,9.1"/>
<path d="M1921.43 793.5L1972.9 793.5" stroke="#3f5ff5" stroke-width="2.2" stroke-linecap="round" stroke-dasharray="12.9,9.1"/>
<circle cx="1485.9" cy="1201.82" r="6.05" fill="none" stroke="#3f5ff5" stroke-width="2.05"/>
<circle cx="1569.77" cy="1110.76" r="6.05" fill="none" stroke="#3f5ff5" stroke-width="2.05"/>
<circle cx="1653.63" cy="871.67" r="6.05" fill="none" stroke="#3f5ff5" stroke-width="2.05"/>
<circle cx="1737.5" cy="798.91" r="6.05" fill="none" stroke="#3f5ff5" stroke-width="2.05"/>
<circle cx="1821.37" cy="793.5" r="6.05" fill="none" stroke="#3f5ff5" stroke-width="2.05"/>
<circle cx="1905.23" cy="793.5" r="6.05" fill="none" stroke="#3f5ff5" stroke-width="2.05"/>
<circle cx="1989.1" cy="793.5" r="6.05" fill="none" stroke="#3f5ff5" stroke-width="2.05"/>
<path d="M1498.99 1181.88L1556.67 1139.84" stroke="#8b0000" stroke-width="2.2" stroke-linecap="round" stroke-dasharray="0.2,8.6"/>
<path d="M1576.17 1115.42L1647.23 950.17" stroke="#8b0000" stroke-width="2.2" stroke-linecap="round" stroke-dasharray="0.2,8.6"/>
<path d="M1662.86 921.97L1728.27 827.6" stroke="#8b0000" stroke-width="2.2" stroke-linecap="round" stroke-dasharray="0.2,8.6"/>
<path d="M1753.29 810.69L1805.57 798.77" stroke="#8b0000" stroke-width="2.2" stroke-linecap="round" stroke-dasharray="0.2,8.6"/>
<path d="M1837.56 794.84L1889.04 793.82" stroke="#8b0000" stroke-width="2.2" stroke-linecap="round" stroke-dasharray="0.2,8.6"/>
<path d="M1921.43 793.5L1972.9 793.5" stroke="#8b0000" stroke-width="2.2" stroke-linecap="round" stroke-dasharray="0.2,8.6"/>
<circle cx="1485.9" cy="1191.42" r="6.05" fill="none" stroke="#8b0000" stroke-width="2.05"/>
<circle cx="1569.77" cy="1130.3" r="6.05" fill="none" stroke="#8b0000" stroke-width="2.05"/>
<circle cx="1653.63" cy="935.29" r="6.05" fill="none" stroke="#8b0000" stroke-width="2.05"/>
<circle cx="1737.5" cy="814.29" r="6.05" fill="none" stroke="#8b0000" stroke-width="2.05"/>
<circle cx="1821.37" cy="795.16" r="6.05" fill="none" stroke="#8b0000" stroke-width="2.05"/>
<circle cx="1905.23" cy="793.5" r="6.05" fill="none" stroke="#8b0000" stroke-width="2.05"/>
<circle cx="1989.1" cy="793.5" r="6.05" fill="none" stroke="#8b0000" stroke-width="2.05"/>
<path d="M1493.24 1182.38L1562.43 1046.2" stroke="#3caa78" stroke-width="2.2" stroke-linecap="round" stroke-dasharray="0.2,9,6,9.2"/>
<path d="M1576.04 1016.82L1647.36 847.1" stroke="#3caa78" stroke-width="2.2" stroke-linecap="round" stroke-dasharray="0.2,9,6,9.2"/>
<path d="M1657.32 847.94L1733.81 1174.82" stroke="#3caa78" stroke-width="2.2" stroke-linecap="round" stroke-dasharray="0.2,9,6,9.2"/>
<path d="M1741.15 1174.8L1817.72 843.38" stroke="#3caa78" stroke-width="2.2" stroke-linecap="round" stroke-dasharray="0.2,9,6,9.2"/>
<path d="M1827.66 842.52L1898.94 1011.42" stroke="#3caa78" stroke-width="2.2" stroke-linecap="round" stroke-dasharray="0.2,9,6,9.2"/>
<path d="M1912.43 1040.86L1981.91 1181.06" stroke="#3caa78" stroke-width="2.2" stroke-linecap="round" stroke-dasharray="0.2,9,6,9.2"/>
<path d="M1485.9 1187.48L1494 1201.5L1477.8 1201.5Z" fill="none" stroke="#3caa78" stroke-width="2.05" stroke-linejoin="round"/>
<path d="M1569.77 1022.4L1577.86 1036.43L1561.67 1036.43Z" fill="none" stroke="#3caa78" stroke-width="2.05" stroke-linejoin="round"/>
<path d="M1653.63 822.82L1661.73 836.84L1645.54 836.84Z" fill="none" stroke="#3caa78" stroke-width="2.05" stroke-linejoin="round"/>
<path d="M1737.5 1181.24L1745.6 1195.26L1729.4 1195.26Z" fill="none" stroke="#3caa78" stroke-width="2.05" stroke-linejoin="round"/>
<path d="M1821.37 818.25L1829.46 832.27L1813.27 832.27Z" fill="none" stroke="#3caa78" stroke-width="2.05" stroke-linejoin="round"/>
<path d="M1905.23 1017L1913.33 1031.02L1897.14 1031.02Z" fill="none" stroke="#3caa78" stroke-width="2.05" stroke-linejoin="round"/>
<path d="M1989.1 1186.23L1997.2 1200.25L1981 1200.25Z" fill="none" stroke="#3caa78" stroke-width="2.05" stroke-linejoin="round"/>
<path d="M1502.1 1199.64L1553.57 1200.66" stroke="#6e0030" stroke-width="2.2" stroke-linecap="round" stroke-dasharray="6.3,11.1"/>
<path d="M1585.95 1201.79L1637.45 1204.34" stroke="#6e0030" stroke-width="2.2" stroke-linecap="round" stroke-dasharray="6.3,11.1"/>
<path d="M1669.82 1205.7L1721.31 1207.49" stroke="#6e0030" stroke-width="2.2" stroke-linecap="round" stroke-dasharray="6.3,11.1"/>
<path d="M1753.7 1208.21L1805.17 1208.72" stroke="#6e0030" stroke-width="2.2" stroke-linecap="round" stroke-dasharray="6.3,11.1"/>
<path d="M1837.57 1208.88L1889.03 1208.88" stroke="#6e0030" stroke-width="2.2" stroke-linecap="round" stroke-dasharray="6.3,11.1"/>
<path d="M1921.43 1208.88L1972.9 1208.88" stroke="#6e0030" stroke-width="2.2" stroke-linecap="round" stroke-dasharray="6.3,11.1"/>
<path d="M1485.9 1191.89L1493.33 1199.32L1485.9 1206.75L1478.47 1199.32Z" fill="none" stroke="#6e0030" stroke-width="2.05" stroke-linejoin="round"/>
<path d="M1569.77 1193.55L1577.2 1200.98L1569.77 1208.41L1562.34 1200.98Z" fill="none" stroke="#6e0030" stroke-width="2.05" stroke-linejoin="round"/>
<path d="M1653.63 1197.71L1661.06 1205.14L1653.63 1212.57L1646.2 1205.14Z" fill="none" stroke="#6e0030" stroke-width="2.05" stroke-linejoin="round"/>
<path d="M1737.5 1200.62L1744.93 1208.05L1737.5 1215.48L1730.07 1208.05Z" fill="none" stroke="#6e0030" stroke-width="2.05" stroke-linejoin="round"/>
<path d="M1821.37 1201.45L1828.8 1208.88L1821.37 1216.31L1813.94 1208.88Z" fill="none" stroke="#6e0030" stroke-width="2.05" stroke-linejoin="round"/>
<path d="M1905.23 1201.45L1912.66 1208.88L1905.23 1216.31L1897.8 1208.88Z" fill="none" stroke="#6e0030" stroke-width="2.05" stroke-linejoin="round"/>
<path d="M1989.1 1201.45L1996.53 1208.88L1989.1 1216.31L1981.67 1208.88Z" fill="none" stroke="#6e0030" stroke-width="2.05" stroke-linejoin="round"/>
<path d="M1502.1 1180.19L1553.57 1180.19" stroke="#0c4a86" stroke-width="2.2" stroke-linecap="round" stroke-dasharray="12.9,9.1"/>
<path d="M1575.52 1165.05L1647.88 974.55" stroke="#0c4a86" stroke-width="2.2" stroke-linecap="round" stroke-dasharray="12.9,9.1"/>
<path d="M1663.4 946.48L1727.74 861.31" stroke="#0c4a86" stroke-width="2.2" stroke-linecap="round" stroke-dasharray="12.9,9.1"/>
<path d="M1753.22 844.49L1805.64 831.49" stroke="#0c4a86" stroke-width="2.2" stroke-linecap="round" stroke-dasharray="12.9,9.1"/>
<path d="M1837.54 826.71L1889.06 823.9" stroke="#0c4a86" stroke-width="2.2" stroke-linecap="round" stroke-dasharray="12.9,9.1"/>
<path d="M1921.43 822.78L1972.9 822.02" stroke="#0c4a86" stroke-width="2.2" stroke-linecap="round" stroke-dasharray="12.9,9.1"/>
<path d="M1485.9 1172.76L1493.33 1180.19L1485.9 1187.62L1478.47 1180.19Z" fill="none" stroke="#0c4a86" stroke-width="2.05" stroke-linejoin="round"/>
<path d="M1569.77 1172.76L1577.2 1180.19L1569.77 1187.62L1562.34 1180.19Z" fill="none" stroke="#0c4a86" stroke-width="2.05" stroke-linejoin="round"/>
<path d="M1653.63 951.97L1661.06 959.4L1653.63 966.83L1646.2 959.4Z" fill="none" stroke="#0c4a86" stroke-width="2.05" stroke-linejoin="round"/>
<path d="M1737.5 840.96L1744.93 848.39L1737.5 855.82L1730.07 848.39Z" fill="none" stroke="#0c4a86" stroke-width="2.05" stroke-linejoin="round"/>
<path d="M1821.37 820.17L1828.8 827.6L1821.37 835.03L1813.94 827.6Z" fill="none" stroke="#0c4a86" stroke-width="2.05" stroke-linejoin="round"/>
<path d="M1905.23 815.59L1912.66 823.02L1905.23 830.45L1897.8 823.02Z" fill="none" stroke="#0c4a86" stroke-width="2.05" stroke-linejoin="round"/>
<path d="M1989.1 814.34L1996.53 821.77L1989.1 829.2L1981.67 821.77Z" fill="none" stroke="#0c4a86" stroke-width="2.05" stroke-linejoin="round"/>
<path d="M44.2 1314.1L122.1 1314.1" stroke="#2c0090" stroke-width="2.2" stroke-linecap="round"/>
<circle cx="83.15" cy="1314.1" r="6.35" fill="none" stroke="#2c0090" stroke-width="2.05"/>
<text x="135.37" y="1327.9" font-size="29.3">Watson's U<tspan font-size="20.5" dy="-12">2</tspan><tspan dy="12">  test</tspan></text>
<path d="M44.2 1349.1L122.1 1349.1" stroke="#cc00cc" stroke-width="2.2" stroke-linecap="round" stroke-dasharray="0.2,8.6"/>
<circle cx="83.15" cy="1349.1" r="6.35" fill="none" stroke="#cc00cc" stroke-width="2.05"/>
<text x="134.7" y="1359.2" font-size="29.3">Mardia−Watson−Wheeler test</text>
<path d="M532.9 1314.4L610.8 1314.4" stroke="#125c00" stroke-width="2.2" stroke-linecap="round" stroke-dasharray="0.2,9,6,9.2"/>
<circle cx="571.85" cy="1314.4" r="6.35" fill="none" stroke="#125c00" stroke-width="2.05"/>
<text x="623.5" y="1322.1" font-size="29.3">MANOVA approach</text>
<path d="M532.9 1349.1L610.8 1349.1" stroke="#3f5ff5" stroke-width="2.2" stroke-linecap="round" stroke-dasharray="12.9,9.1"/>
<circle cx="571.85" cy="1349.1" r="6.35" fill="none" stroke="#3f5ff5" stroke-width="2.05"/>
<text x="623.9" y="1357" font-size="29.3">Embedding approach ANOVA</text>
<path d="M1021.45 1314.3L1099.35 1314.3" stroke="#8b0000" stroke-width="2.2" stroke-linecap="round" stroke-dasharray="0.2,8.6"/>
<circle cx="1060.4" cy="1314.3" r="6.35" fill="none" stroke="#8b0000" stroke-width="2.05"/>
<text x="1112.57" y="1324.7" font-size="29.3">Watson−Wheeler test</text>
<path d="M1021.45 1349.1L1099.35 1349.1" stroke="#3caa78" stroke-width="2.2" stroke-linecap="round" stroke-dasharray="0.2,9,6,9.2"/>
<path d="M1060.4 1339.28L1068.9 1354.01L1051.9 1354.01Z" fill="none" stroke="#3caa78" stroke-width="2.05" stroke-linejoin="round"/>
<text x="1111.9" y="1356.4" font-size="29.3">Rao polar test</text>
<path d="M1510.45 1314.1L1588.35 1314.1" stroke="#6e0030" stroke-width="2.2" stroke-linecap="round" stroke-dasharray="6.3,11.1"/>
<path d="M1549.4 1306.3L1557.2 1314.1L1549.4 1321.9L1541.6 1314.1Z" fill="none" stroke="#6e0030" stroke-width="2.05" stroke-linejoin="round"/>
<text x="1601.21" y="1325.1" font-size="29.3">Concentration test</text>
<path d="M1510.45 1349.1L1588.35 1349.1" stroke="#0c4a86" stroke-width="2.2" stroke-linecap="round" stroke-dasharray="12.9,9.1"/>
<path d="M1549.4 1341.3L1557.2 1349.1L1549.4 1356.9L1541.6 1349.1Z" fill="none" stroke="#0c4a86" stroke-width="2.05" stroke-linejoin="round"/>
<text x="1600.7" y="1359.4" font-size="29.3">Levene's test</text>
</svg></body></html>
